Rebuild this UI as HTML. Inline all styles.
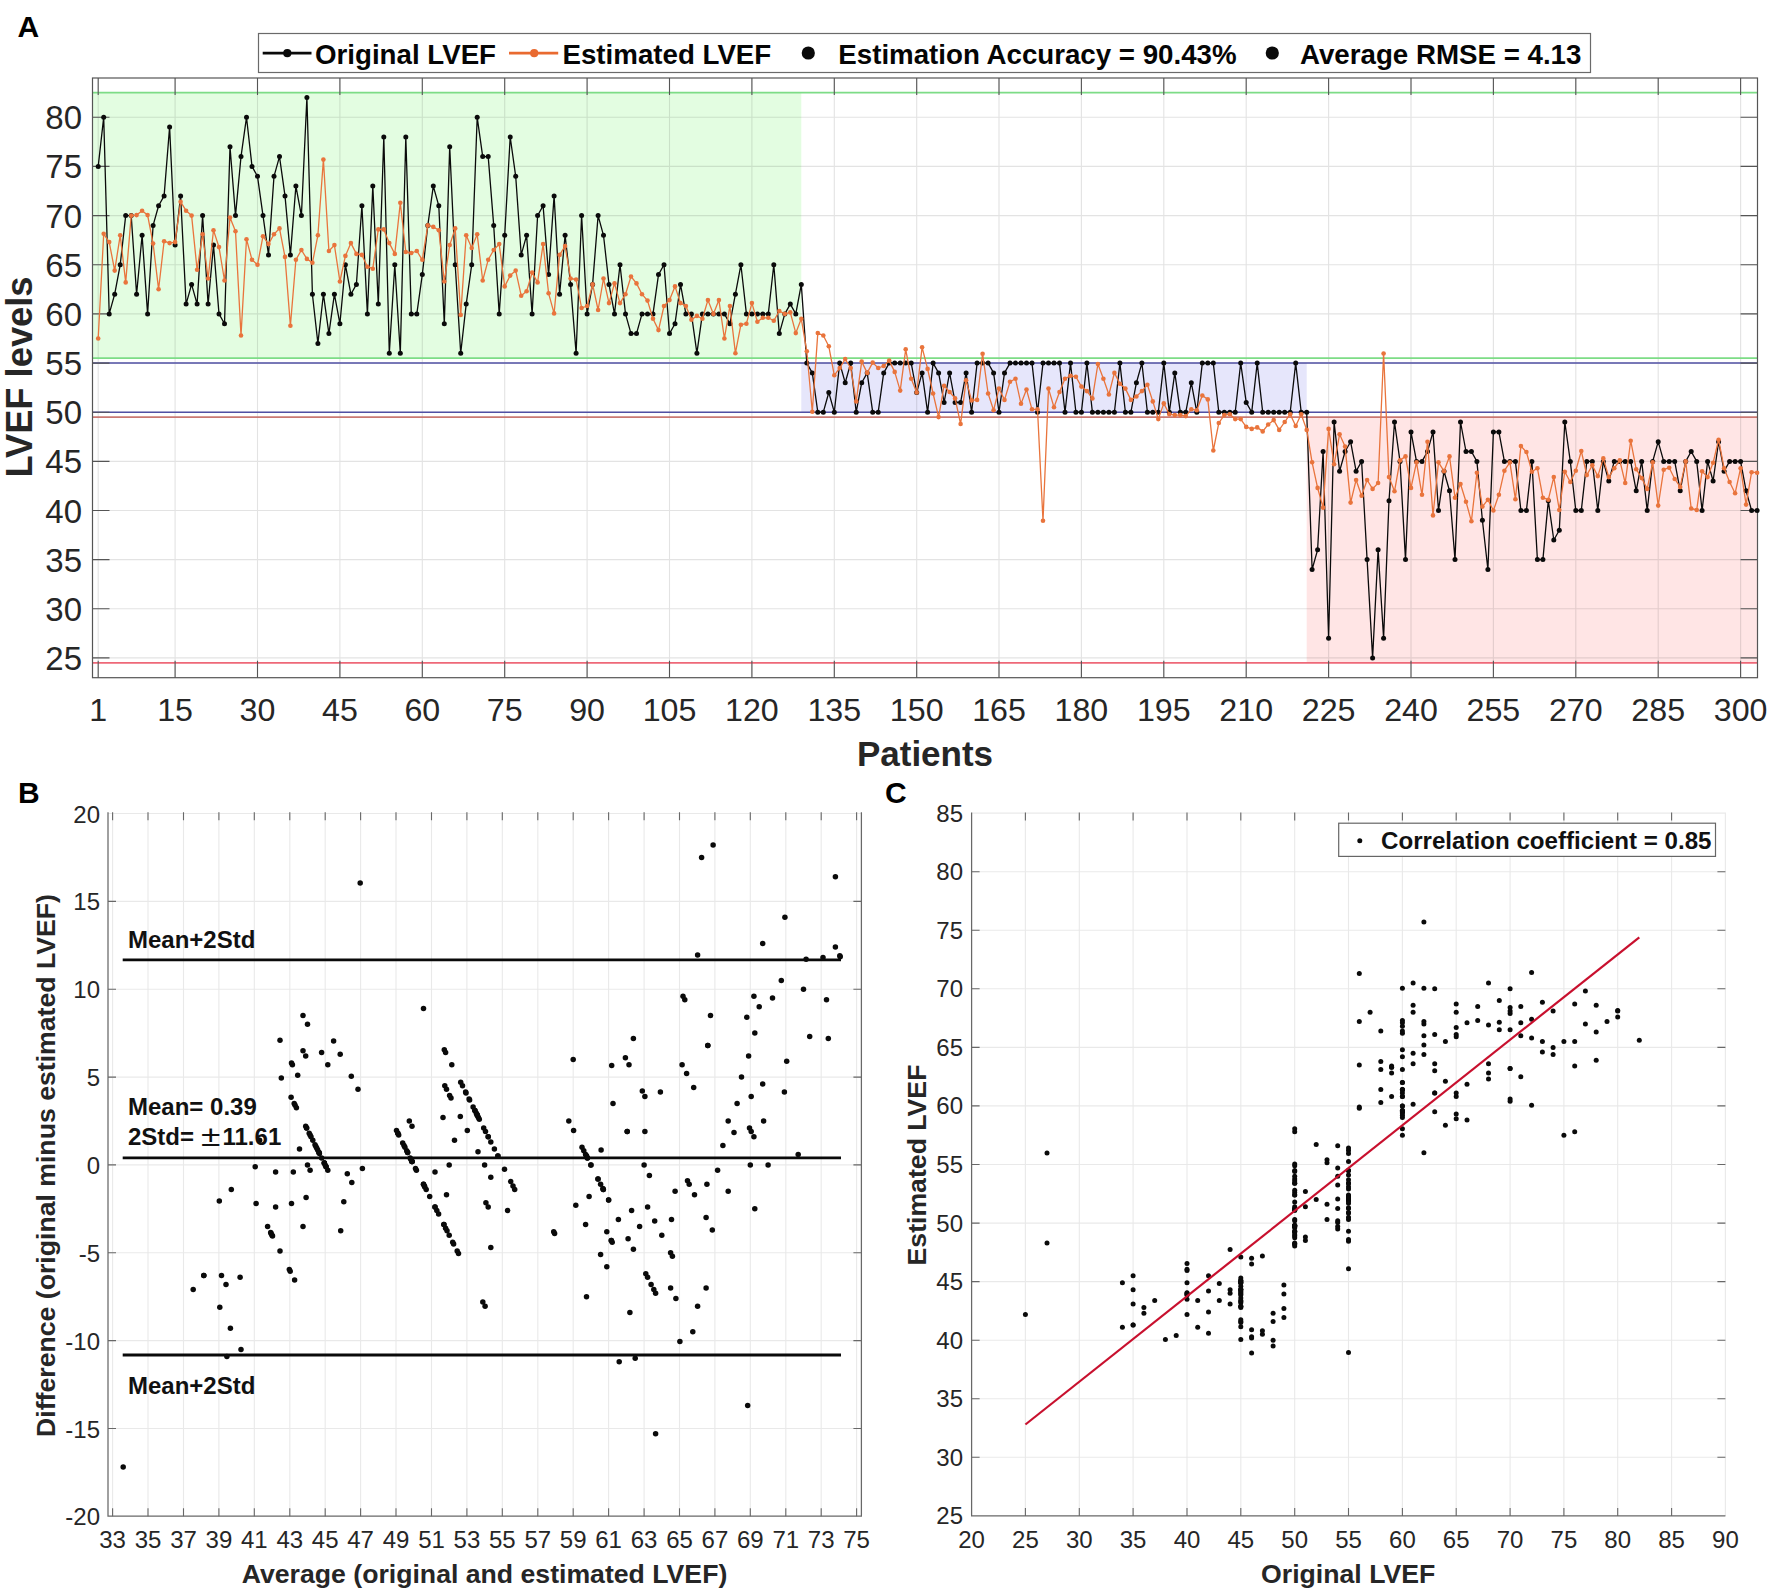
<!DOCTYPE html>
<html lang="en"><head><meta charset="utf-8"><title>LVEF estimation figure</title>
<style>html,body{margin:0;padding:0;background:#fff}svg{display:block}</style></head>
<body>
<svg width="1772" height="1593" viewBox="0 0 1772 1593" font-family='"Liberation Sans", Arial, Helvetica, sans-serif'>
<rect width="1772" height="1593" fill="#fff"/>
<rect x="92.5" y="92.7" width="708.8" height="265.4" fill="#e3fde1"/>
<rect x="801.3" y="363.1" width="505.4" height="49.1" fill="#e6e6fb"/>
<rect x="1306.7" y="417.1" width="450.8" height="245.8" fill="#ffe5e5"/>
<path d="M98.2 78.0V677.7M175.1 78.0V677.7M257.5 78.0V677.7M339.9 78.0V677.7M422.3 78.0V677.7M504.7 78.0V677.7M587.1 78.0V677.7M669.5 78.0V677.7M751.9 78.0V677.7M834.3 78.0V677.7M916.7 78.0V677.7M999.0 78.0V677.7M1081.4 78.0V677.7M1163.8 78.0V677.7M1246.2 78.0V677.7M1328.6 78.0V677.7M1411.0 78.0V677.7M1493.4 78.0V677.7M1575.8 78.0V677.7M1658.2 78.0V677.7M1740.6 78.0V677.7M92.5 657.9H1757.5M92.5 608.8H1757.5M92.5 559.6H1757.5M92.5 510.5H1757.5M92.5 461.4H1757.5M92.5 412.2H1757.5M92.5 363.1H1757.5M92.5 313.9H1757.5M92.5 264.8H1757.5M92.5 215.6H1757.5M92.5 166.4H1757.5M92.5 117.3H1757.5" stroke="#262626" stroke-opacity="0.13" stroke-width="1.1" fill="none"/>
<line x1="92.5" x2="1757.5" y1="92.7" y2="92.7" stroke="#7ddc86" stroke-width="1.7" stroke-opacity="1"/>
<line x1="92.5" x2="1757.5" y1="358.1" y2="358.1" stroke="#7ddc86" stroke-width="1.7" stroke-opacity="1"/>
<line x1="92.5" x2="1757.5" y1="363.1" y2="363.1" stroke="#5050a4" stroke-width="1.5" stroke-opacity="1"/>
<line x1="92.5" x2="1757.5" y1="412.2" y2="412.2" stroke="#5050a4" stroke-width="1.5" stroke-opacity="1"/>
<line x1="92.5" x2="1757.5" y1="417.1" y2="417.1" stroke="#c46a64" stroke-width="1.6" stroke-opacity="0.9"/>
<line x1="92.5" x2="1757.5" y1="662.9" y2="662.9" stroke="#ee6878" stroke-width="1.9" stroke-opacity="1"/>
<path d="M98.2 78.0v17M98.2 677.7v-17M175.1 78.0v17M175.1 677.7v-17M257.5 78.0v17M257.5 677.7v-17M339.9 78.0v17M339.9 677.7v-17M422.3 78.0v17M422.3 677.7v-17M504.7 78.0v17M504.7 677.7v-17M587.1 78.0v17M587.1 677.7v-17M669.5 78.0v17M669.5 677.7v-17M751.9 78.0v17M751.9 677.7v-17M834.3 78.0v17M834.3 677.7v-17M916.7 78.0v17M916.7 677.7v-17M999.0 78.0v17M999.0 677.7v-17M1081.4 78.0v17M1081.4 677.7v-17M1163.8 78.0v17M1163.8 677.7v-17M1246.2 78.0v17M1246.2 677.7v-17M1328.6 78.0v17M1328.6 677.7v-17M1411.0 78.0v17M1411.0 677.7v-17M1493.4 78.0v17M1493.4 677.7v-17M1575.8 78.0v17M1575.8 677.7v-17M1658.2 78.0v17M1658.2 677.7v-17M1740.6 78.0v17M1740.6 677.7v-17M92.5 657.9h17M1757.5 657.9h-17M92.5 608.8h17M1757.5 608.8h-17M92.5 559.6h17M1757.5 559.6h-17M92.5 510.5h17M1757.5 510.5h-17M92.5 461.4h17M1757.5 461.4h-17M92.5 412.2h17M1757.5 412.2h-17M92.5 363.1h17M1757.5 363.1h-17M92.5 313.9h17M1757.5 313.9h-17M92.5 264.8h17M1757.5 264.8h-17M92.5 215.6h17M1757.5 215.6h-17M92.5 166.4h17M1757.5 166.4h-17M92.5 117.3h17M1757.5 117.3h-17" stroke="#555555" stroke-width="1.1" fill="none"/>
<rect x="92.5" y="78.0" width="1665.0" height="599.7" fill="none" stroke="#555555" stroke-width="1.2"/>
<polyline points="98.2,166.4 103.7,117.3 109.2,313.9 114.7,294.2 120.2,264.8 125.7,215.6 131.2,215.6 136.6,294.2 142.1,235.3 147.6,313.9 153.1,225.4 158.6,205.8 164.1,195.9 169.6,127.1 175.1,245.1 180.6,195.9 186.1,304.1 191.6,284.4 197.1,304.1 202.6,215.6 208.1,304.1 213.5,245.1 219.0,313.9 224.5,323.7 230.0,146.8 235.5,215.6 241.0,156.6 246.5,117.3 252.0,166.4 257.5,176.3 263.0,215.6 268.5,254.9 274.0,176.3 279.5,156.6 285.0,195.9 290.4,254.9 295.9,186.1 301.4,215.6 306.9,97.6 312.4,294.2 317.9,343.4 323.4,294.2 328.9,333.6 334.4,294.2 339.9,323.7 345.4,264.8 350.9,294.2 356.4,284.4 361.9,205.8 367.4,313.9 372.8,186.1 378.3,304.1 383.8,137.0 389.3,353.2 394.8,264.8 400.3,353.2 405.8,137.0 411.3,313.9 416.8,313.9 422.3,274.6 427.8,225.4 433.3,186.1 438.8,205.8 444.3,323.7 449.7,146.8 455.2,264.8 460.7,353.2 466.2,304.1 471.7,264.8 477.2,117.3 482.7,156.6 488.2,156.6 493.7,225.4 499.2,313.9 504.7,235.3 510.2,137.0 515.7,176.3 521.2,254.9 526.6,235.3 532.1,313.9 537.6,215.6 543.1,205.8 548.6,274.6 554.1,195.9 559.6,294.2 565.1,235.3 570.6,284.4 576.1,353.2 581.6,215.6 587.1,313.9 592.6,284.4 598.1,215.6 603.5,235.3 609.0,284.4 614.5,313.9 620.0,264.8 625.5,313.9 631.0,333.6 636.5,333.6 642.0,313.9 647.5,313.9 653.0,313.9 658.5,274.6 664.0,264.8 669.5,333.6 675.0,323.7 680.5,284.4 685.9,313.9 691.4,313.9 696.9,353.2 702.4,313.9 707.9,313.9 713.4,313.9 718.9,313.9 724.4,313.9 729.9,323.7 735.4,294.2 740.9,264.8 746.4,313.9 751.9,313.9 757.4,313.9 762.8,313.9 768.3,313.9 773.8,264.8 779.3,333.6 784.8,313.9 790.3,304.1 795.8,313.9 801.3,284.4 806.8,363.1 812.3,372.9 817.8,412.2 823.3,412.2 828.8,392.5 834.3,412.2 839.7,363.1 845.2,382.7 850.7,363.1 856.2,412.2 861.7,382.7 867.2,372.9 872.7,412.2 878.2,412.2 883.7,372.9 889.2,363.1 894.7,363.1 900.2,363.1 905.7,363.1 911.2,363.1 916.7,392.5 922.1,372.9 927.6,412.2 933.1,363.1 938.6,372.9 944.1,402.4 949.6,372.9 955.1,402.4 960.6,402.4 966.1,372.9 971.6,412.2 977.1,363.1 982.6,363.1 988.1,363.1 993.6,372.9 999.0,412.2 1004.5,372.9 1010.0,363.1 1015.5,363.1 1021.0,363.1 1026.5,363.1 1032.0,363.1 1037.5,412.2 1043.0,363.1 1048.5,363.1 1054.0,363.1 1059.5,363.1 1065.0,412.2 1070.5,363.1 1075.9,412.2 1081.4,412.2 1086.9,363.1 1092.4,412.2 1097.9,412.2 1103.4,412.2 1108.9,412.2 1114.4,412.2 1119.9,363.1 1125.4,412.2 1130.9,412.2 1136.4,382.7 1141.9,363.1 1147.4,412.2 1152.8,412.2 1158.3,412.2 1163.8,363.1 1169.3,412.2 1174.8,372.9 1180.3,412.2 1185.8,412.2 1191.3,382.7 1196.8,412.2 1202.3,363.1 1207.8,363.1 1213.3,363.1 1218.8,412.2 1224.3,412.2 1229.8,412.2 1235.2,412.2 1240.7,363.1 1246.2,402.4 1251.7,412.2 1257.2,363.1 1262.7,412.2 1268.2,412.2 1273.7,412.2 1279.2,412.2 1284.7,412.2 1290.2,412.2 1295.7,363.1 1301.2,412.2 1306.7,412.2 1312.1,569.5 1317.6,549.8 1323.1,451.5 1328.6,638.3 1334.1,422.0 1339.6,471.2 1345.1,451.5 1350.6,441.7 1356.1,471.2 1361.6,461.4 1367.1,559.6 1372.6,657.9 1378.1,549.8 1383.6,638.3 1389.0,500.7 1394.5,422.0 1400.0,461.4 1405.5,559.6 1411.0,431.9 1416.5,461.4 1422.0,461.4 1427.5,451.5 1433.0,431.9 1438.5,510.5 1444.0,471.2 1449.5,490.8 1455.0,559.6 1460.5,422.0 1466.0,451.5 1471.4,451.5 1476.9,461.4 1482.4,520.3 1487.9,569.5 1493.4,431.9 1498.9,431.9 1504.4,461.4 1509.9,461.4 1515.4,461.4 1520.9,510.5 1526.4,510.5 1531.9,461.4 1537.4,559.6 1542.9,559.6 1548.3,500.7 1553.8,540.0 1559.3,530.2 1564.8,422.0 1570.3,461.4 1575.8,510.5 1581.3,510.5 1586.8,461.4 1592.3,461.4 1597.8,510.5 1603.3,461.4 1608.8,481.0 1614.3,461.4 1619.8,461.4 1625.2,461.4 1630.7,461.4 1636.2,490.8 1641.7,461.4 1647.2,510.5 1652.7,461.4 1658.2,441.7 1663.7,461.4 1669.2,461.4 1674.7,461.4 1680.2,490.8 1685.7,461.4 1691.2,451.5 1696.7,461.4 1702.1,510.5 1707.6,461.4 1713.1,481.0 1718.6,441.7 1724.1,471.2 1729.6,461.4 1735.1,461.4 1740.6,461.4 1746.1,490.8 1751.6,510.5 1757.1,510.5" fill="none" stroke="#0a0a0a" stroke-width="1.3" stroke-linejoin="round"/>
<g fill="#0a0a0a"><circle cx="98.2" cy="166.4" r="2.5"/><circle cx="103.7" cy="117.3" r="2.5"/><circle cx="109.2" cy="313.9" r="2.5"/><circle cx="114.7" cy="294.2" r="2.5"/><circle cx="120.2" cy="264.8" r="2.5"/><circle cx="125.7" cy="215.6" r="2.5"/><circle cx="131.2" cy="215.6" r="2.5"/><circle cx="136.6" cy="294.2" r="2.5"/><circle cx="142.1" cy="235.3" r="2.5"/><circle cx="147.6" cy="313.9" r="2.5"/><circle cx="153.1" cy="225.4" r="2.5"/><circle cx="158.6" cy="205.8" r="2.5"/><circle cx="164.1" cy="195.9" r="2.5"/><circle cx="169.6" cy="127.1" r="2.5"/><circle cx="175.1" cy="245.1" r="2.5"/><circle cx="180.6" cy="195.9" r="2.5"/><circle cx="186.1" cy="304.1" r="2.5"/><circle cx="191.6" cy="284.4" r="2.5"/><circle cx="197.1" cy="304.1" r="2.5"/><circle cx="202.6" cy="215.6" r="2.5"/><circle cx="208.1" cy="304.1" r="2.5"/><circle cx="213.5" cy="245.1" r="2.5"/><circle cx="219.0" cy="313.9" r="2.5"/><circle cx="224.5" cy="323.7" r="2.5"/><circle cx="230.0" cy="146.8" r="2.5"/><circle cx="235.5" cy="215.6" r="2.5"/><circle cx="241.0" cy="156.6" r="2.5"/><circle cx="246.5" cy="117.3" r="2.5"/><circle cx="252.0" cy="166.4" r="2.5"/><circle cx="257.5" cy="176.3" r="2.5"/><circle cx="263.0" cy="215.6" r="2.5"/><circle cx="268.5" cy="254.9" r="2.5"/><circle cx="274.0" cy="176.3" r="2.5"/><circle cx="279.5" cy="156.6" r="2.5"/><circle cx="285.0" cy="195.9" r="2.5"/><circle cx="290.4" cy="254.9" r="2.5"/><circle cx="295.9" cy="186.1" r="2.5"/><circle cx="301.4" cy="215.6" r="2.5"/><circle cx="306.9" cy="97.6" r="2.5"/><circle cx="312.4" cy="294.2" r="2.5"/><circle cx="317.9" cy="343.4" r="2.5"/><circle cx="323.4" cy="294.2" r="2.5"/><circle cx="328.9" cy="333.6" r="2.5"/><circle cx="334.4" cy="294.2" r="2.5"/><circle cx="339.9" cy="323.7" r="2.5"/><circle cx="345.4" cy="264.8" r="2.5"/><circle cx="350.9" cy="294.2" r="2.5"/><circle cx="356.4" cy="284.4" r="2.5"/><circle cx="361.9" cy="205.8" r="2.5"/><circle cx="367.4" cy="313.9" r="2.5"/><circle cx="372.8" cy="186.1" r="2.5"/><circle cx="378.3" cy="304.1" r="2.5"/><circle cx="383.8" cy="137.0" r="2.5"/><circle cx="389.3" cy="353.2" r="2.5"/><circle cx="394.8" cy="264.8" r="2.5"/><circle cx="400.3" cy="353.2" r="2.5"/><circle cx="405.8" cy="137.0" r="2.5"/><circle cx="411.3" cy="313.9" r="2.5"/><circle cx="416.8" cy="313.9" r="2.5"/><circle cx="422.3" cy="274.6" r="2.5"/><circle cx="427.8" cy="225.4" r="2.5"/><circle cx="433.3" cy="186.1" r="2.5"/><circle cx="438.8" cy="205.8" r="2.5"/><circle cx="444.3" cy="323.7" r="2.5"/><circle cx="449.7" cy="146.8" r="2.5"/><circle cx="455.2" cy="264.8" r="2.5"/><circle cx="460.7" cy="353.2" r="2.5"/><circle cx="466.2" cy="304.1" r="2.5"/><circle cx="471.7" cy="264.8" r="2.5"/><circle cx="477.2" cy="117.3" r="2.5"/><circle cx="482.7" cy="156.6" r="2.5"/><circle cx="488.2" cy="156.6" r="2.5"/><circle cx="493.7" cy="225.4" r="2.5"/><circle cx="499.2" cy="313.9" r="2.5"/><circle cx="504.7" cy="235.3" r="2.5"/><circle cx="510.2" cy="137.0" r="2.5"/><circle cx="515.7" cy="176.3" r="2.5"/><circle cx="521.2" cy="254.9" r="2.5"/><circle cx="526.6" cy="235.3" r="2.5"/><circle cx="532.1" cy="313.9" r="2.5"/><circle cx="537.6" cy="215.6" r="2.5"/><circle cx="543.1" cy="205.8" r="2.5"/><circle cx="548.6" cy="274.6" r="2.5"/><circle cx="554.1" cy="195.9" r="2.5"/><circle cx="559.6" cy="294.2" r="2.5"/><circle cx="565.1" cy="235.3" r="2.5"/><circle cx="570.6" cy="284.4" r="2.5"/><circle cx="576.1" cy="353.2" r="2.5"/><circle cx="581.6" cy="215.6" r="2.5"/><circle cx="587.1" cy="313.9" r="2.5"/><circle cx="592.6" cy="284.4" r="2.5"/><circle cx="598.1" cy="215.6" r="2.5"/><circle cx="603.5" cy="235.3" r="2.5"/><circle cx="609.0" cy="284.4" r="2.5"/><circle cx="614.5" cy="313.9" r="2.5"/><circle cx="620.0" cy="264.8" r="2.5"/><circle cx="625.5" cy="313.9" r="2.5"/><circle cx="631.0" cy="333.6" r="2.5"/><circle cx="636.5" cy="333.6" r="2.5"/><circle cx="642.0" cy="313.9" r="2.5"/><circle cx="647.5" cy="313.9" r="2.5"/><circle cx="653.0" cy="313.9" r="2.5"/><circle cx="658.5" cy="274.6" r="2.5"/><circle cx="664.0" cy="264.8" r="2.5"/><circle cx="669.5" cy="333.6" r="2.5"/><circle cx="675.0" cy="323.7" r="2.5"/><circle cx="680.5" cy="284.4" r="2.5"/><circle cx="685.9" cy="313.9" r="2.5"/><circle cx="691.4" cy="313.9" r="2.5"/><circle cx="696.9" cy="353.2" r="2.5"/><circle cx="702.4" cy="313.9" r="2.5"/><circle cx="707.9" cy="313.9" r="2.5"/><circle cx="713.4" cy="313.9" r="2.5"/><circle cx="718.9" cy="313.9" r="2.5"/><circle cx="724.4" cy="313.9" r="2.5"/><circle cx="729.9" cy="323.7" r="2.5"/><circle cx="735.4" cy="294.2" r="2.5"/><circle cx="740.9" cy="264.8" r="2.5"/><circle cx="746.4" cy="313.9" r="2.5"/><circle cx="751.9" cy="313.9" r="2.5"/><circle cx="757.4" cy="313.9" r="2.5"/><circle cx="762.8" cy="313.9" r="2.5"/><circle cx="768.3" cy="313.9" r="2.5"/><circle cx="773.8" cy="264.8" r="2.5"/><circle cx="779.3" cy="333.6" r="2.5"/><circle cx="784.8" cy="313.9" r="2.5"/><circle cx="790.3" cy="304.1" r="2.5"/><circle cx="795.8" cy="313.9" r="2.5"/><circle cx="801.3" cy="284.4" r="2.5"/><circle cx="806.8" cy="363.1" r="2.5"/><circle cx="812.3" cy="372.9" r="2.5"/><circle cx="817.8" cy="412.2" r="2.5"/><circle cx="823.3" cy="412.2" r="2.5"/><circle cx="828.8" cy="392.5" r="2.5"/><circle cx="834.3" cy="412.2" r="2.5"/><circle cx="839.7" cy="363.1" r="2.5"/><circle cx="845.2" cy="382.7" r="2.5"/><circle cx="850.7" cy="363.1" r="2.5"/><circle cx="856.2" cy="412.2" r="2.5"/><circle cx="861.7" cy="382.7" r="2.5"/><circle cx="867.2" cy="372.9" r="2.5"/><circle cx="872.7" cy="412.2" r="2.5"/><circle cx="878.2" cy="412.2" r="2.5"/><circle cx="883.7" cy="372.9" r="2.5"/><circle cx="889.2" cy="363.1" r="2.5"/><circle cx="894.7" cy="363.1" r="2.5"/><circle cx="900.2" cy="363.1" r="2.5"/><circle cx="905.7" cy="363.1" r="2.5"/><circle cx="911.2" cy="363.1" r="2.5"/><circle cx="916.7" cy="392.5" r="2.5"/><circle cx="922.1" cy="372.9" r="2.5"/><circle cx="927.6" cy="412.2" r="2.5"/><circle cx="933.1" cy="363.1" r="2.5"/><circle cx="938.6" cy="372.9" r="2.5"/><circle cx="944.1" cy="402.4" r="2.5"/><circle cx="949.6" cy="372.9" r="2.5"/><circle cx="955.1" cy="402.4" r="2.5"/><circle cx="960.6" cy="402.4" r="2.5"/><circle cx="966.1" cy="372.9" r="2.5"/><circle cx="971.6" cy="412.2" r="2.5"/><circle cx="977.1" cy="363.1" r="2.5"/><circle cx="982.6" cy="363.1" r="2.5"/><circle cx="988.1" cy="363.1" r="2.5"/><circle cx="993.6" cy="372.9" r="2.5"/><circle cx="999.0" cy="412.2" r="2.5"/><circle cx="1004.5" cy="372.9" r="2.5"/><circle cx="1010.0" cy="363.1" r="2.5"/><circle cx="1015.5" cy="363.1" r="2.5"/><circle cx="1021.0" cy="363.1" r="2.5"/><circle cx="1026.5" cy="363.1" r="2.5"/><circle cx="1032.0" cy="363.1" r="2.5"/><circle cx="1037.5" cy="412.2" r="2.5"/><circle cx="1043.0" cy="363.1" r="2.5"/><circle cx="1048.5" cy="363.1" r="2.5"/><circle cx="1054.0" cy="363.1" r="2.5"/><circle cx="1059.5" cy="363.1" r="2.5"/><circle cx="1065.0" cy="412.2" r="2.5"/><circle cx="1070.5" cy="363.1" r="2.5"/><circle cx="1075.9" cy="412.2" r="2.5"/><circle cx="1081.4" cy="412.2" r="2.5"/><circle cx="1086.9" cy="363.1" r="2.5"/><circle cx="1092.4" cy="412.2" r="2.5"/><circle cx="1097.9" cy="412.2" r="2.5"/><circle cx="1103.4" cy="412.2" r="2.5"/><circle cx="1108.9" cy="412.2" r="2.5"/><circle cx="1114.4" cy="412.2" r="2.5"/><circle cx="1119.9" cy="363.1" r="2.5"/><circle cx="1125.4" cy="412.2" r="2.5"/><circle cx="1130.9" cy="412.2" r="2.5"/><circle cx="1136.4" cy="382.7" r="2.5"/><circle cx="1141.9" cy="363.1" r="2.5"/><circle cx="1147.4" cy="412.2" r="2.5"/><circle cx="1152.8" cy="412.2" r="2.5"/><circle cx="1158.3" cy="412.2" r="2.5"/><circle cx="1163.8" cy="363.1" r="2.5"/><circle cx="1169.3" cy="412.2" r="2.5"/><circle cx="1174.8" cy="372.9" r="2.5"/><circle cx="1180.3" cy="412.2" r="2.5"/><circle cx="1185.8" cy="412.2" r="2.5"/><circle cx="1191.3" cy="382.7" r="2.5"/><circle cx="1196.8" cy="412.2" r="2.5"/><circle cx="1202.3" cy="363.1" r="2.5"/><circle cx="1207.8" cy="363.1" r="2.5"/><circle cx="1213.3" cy="363.1" r="2.5"/><circle cx="1218.8" cy="412.2" r="2.5"/><circle cx="1224.3" cy="412.2" r="2.5"/><circle cx="1229.8" cy="412.2" r="2.5"/><circle cx="1235.2" cy="412.2" r="2.5"/><circle cx="1240.7" cy="363.1" r="2.5"/><circle cx="1246.2" cy="402.4" r="2.5"/><circle cx="1251.7" cy="412.2" r="2.5"/><circle cx="1257.2" cy="363.1" r="2.5"/><circle cx="1262.7" cy="412.2" r="2.5"/><circle cx="1268.2" cy="412.2" r="2.5"/><circle cx="1273.7" cy="412.2" r="2.5"/><circle cx="1279.2" cy="412.2" r="2.5"/><circle cx="1284.7" cy="412.2" r="2.5"/><circle cx="1290.2" cy="412.2" r="2.5"/><circle cx="1295.7" cy="363.1" r="2.5"/><circle cx="1301.2" cy="412.2" r="2.5"/><circle cx="1306.7" cy="412.2" r="2.5"/><circle cx="1312.1" cy="569.5" r="2.5"/><circle cx="1317.6" cy="549.8" r="2.5"/><circle cx="1323.1" cy="451.5" r="2.5"/><circle cx="1328.6" cy="638.3" r="2.5"/><circle cx="1334.1" cy="422.0" r="2.5"/><circle cx="1339.6" cy="471.2" r="2.5"/><circle cx="1345.1" cy="451.5" r="2.5"/><circle cx="1350.6" cy="441.7" r="2.5"/><circle cx="1356.1" cy="471.2" r="2.5"/><circle cx="1361.6" cy="461.4" r="2.5"/><circle cx="1367.1" cy="559.6" r="2.5"/><circle cx="1372.6" cy="657.9" r="2.5"/><circle cx="1378.1" cy="549.8" r="2.5"/><circle cx="1383.6" cy="638.3" r="2.5"/><circle cx="1389.0" cy="500.7" r="2.5"/><circle cx="1394.5" cy="422.0" r="2.5"/><circle cx="1400.0" cy="461.4" r="2.5"/><circle cx="1405.5" cy="559.6" r="2.5"/><circle cx="1411.0" cy="431.9" r="2.5"/><circle cx="1416.5" cy="461.4" r="2.5"/><circle cx="1422.0" cy="461.4" r="2.5"/><circle cx="1427.5" cy="451.5" r="2.5"/><circle cx="1433.0" cy="431.9" r="2.5"/><circle cx="1438.5" cy="510.5" r="2.5"/><circle cx="1444.0" cy="471.2" r="2.5"/><circle cx="1449.5" cy="490.8" r="2.5"/><circle cx="1455.0" cy="559.6" r="2.5"/><circle cx="1460.5" cy="422.0" r="2.5"/><circle cx="1466.0" cy="451.5" r="2.5"/><circle cx="1471.4" cy="451.5" r="2.5"/><circle cx="1476.9" cy="461.4" r="2.5"/><circle cx="1482.4" cy="520.3" r="2.5"/><circle cx="1487.9" cy="569.5" r="2.5"/><circle cx="1493.4" cy="431.9" r="2.5"/><circle cx="1498.9" cy="431.9" r="2.5"/><circle cx="1504.4" cy="461.4" r="2.5"/><circle cx="1509.9" cy="461.4" r="2.5"/><circle cx="1515.4" cy="461.4" r="2.5"/><circle cx="1520.9" cy="510.5" r="2.5"/><circle cx="1526.4" cy="510.5" r="2.5"/><circle cx="1531.9" cy="461.4" r="2.5"/><circle cx="1537.4" cy="559.6" r="2.5"/><circle cx="1542.9" cy="559.6" r="2.5"/><circle cx="1548.3" cy="500.7" r="2.5"/><circle cx="1553.8" cy="540.0" r="2.5"/><circle cx="1559.3" cy="530.2" r="2.5"/><circle cx="1564.8" cy="422.0" r="2.5"/><circle cx="1570.3" cy="461.4" r="2.5"/><circle cx="1575.8" cy="510.5" r="2.5"/><circle cx="1581.3" cy="510.5" r="2.5"/><circle cx="1586.8" cy="461.4" r="2.5"/><circle cx="1592.3" cy="461.4" r="2.5"/><circle cx="1597.8" cy="510.5" r="2.5"/><circle cx="1603.3" cy="461.4" r="2.5"/><circle cx="1608.8" cy="481.0" r="2.5"/><circle cx="1614.3" cy="461.4" r="2.5"/><circle cx="1619.8" cy="461.4" r="2.5"/><circle cx="1625.2" cy="461.4" r="2.5"/><circle cx="1630.7" cy="461.4" r="2.5"/><circle cx="1636.2" cy="490.8" r="2.5"/><circle cx="1641.7" cy="461.4" r="2.5"/><circle cx="1647.2" cy="510.5" r="2.5"/><circle cx="1652.7" cy="461.4" r="2.5"/><circle cx="1658.2" cy="441.7" r="2.5"/><circle cx="1663.7" cy="461.4" r="2.5"/><circle cx="1669.2" cy="461.4" r="2.5"/><circle cx="1674.7" cy="461.4" r="2.5"/><circle cx="1680.2" cy="490.8" r="2.5"/><circle cx="1685.7" cy="461.4" r="2.5"/><circle cx="1691.2" cy="451.5" r="2.5"/><circle cx="1696.7" cy="461.4" r="2.5"/><circle cx="1702.1" cy="510.5" r="2.5"/><circle cx="1707.6" cy="461.4" r="2.5"/><circle cx="1713.1" cy="481.0" r="2.5"/><circle cx="1718.6" cy="441.7" r="2.5"/><circle cx="1724.1" cy="471.2" r="2.5"/><circle cx="1729.6" cy="461.4" r="2.5"/><circle cx="1735.1" cy="461.4" r="2.5"/><circle cx="1740.6" cy="461.4" r="2.5"/><circle cx="1746.1" cy="490.8" r="2.5"/><circle cx="1751.6" cy="510.5" r="2.5"/><circle cx="1757.1" cy="510.5" r="2.5"/></g>
<polyline points="98.2,338.5 103.7,233.8 109.2,242.1 114.7,270.6 120.2,235.3 125.7,282.4 131.2,215.6 136.6,215.1 142.1,210.7 147.6,215.1 153.1,243.6 158.6,289.3 164.1,241.2 169.6,243.1 175.1,242.1 180.6,201.8 186.1,210.7 191.6,215.6 197.1,269.7 202.6,234.3 208.1,278.5 213.5,230.3 219.0,247.1 224.5,280.5 230.0,217.6 235.5,231.3 241.0,335.5 246.5,239.2 252.0,259.8 257.5,264.8 263.0,236.2 268.5,244.1 274.0,234.3 279.5,228.4 285.0,256.9 290.4,325.7 295.9,259.8 301.4,250.0 306.9,258.9 312.4,262.8 317.9,235.3 323.4,159.6 328.9,251.0 334.4,245.1 339.9,281.5 345.4,255.9 350.9,243.1 356.4,253.9 361.9,254.9 367.4,266.7 372.8,268.7 378.3,229.4 383.8,229.4 389.3,243.1 394.8,253.9 400.3,202.8 405.8,252.0 411.3,253.0 416.8,251.0 422.3,259.8 427.8,225.4 433.3,226.9 438.8,230.3 444.3,281.5 449.7,245.1 455.2,228.4 460.7,314.9 466.2,235.3 471.7,248.0 477.2,234.3 482.7,280.5 488.2,259.8 493.7,250.0 499.2,244.1 504.7,286.4 510.2,275.6 515.7,270.6 521.2,295.7 526.6,291.3 532.1,272.6 537.6,282.4 543.1,244.1 548.6,293.3 554.1,313.4 559.6,254.9 565.1,246.1 570.6,278.5 576.1,279.5 581.6,308.0 587.1,306.0 592.6,284.4 598.1,310.0 603.5,278.5 609.0,303.1 614.5,283.4 620.0,303.1 625.5,294.2 631.0,276.5 636.5,283.4 642.0,294.2 647.5,300.6 653.0,318.8 658.5,330.1 664.0,306.0 669.5,300.1 675.0,286.4 680.5,303.1 685.9,306.0 691.4,319.8 696.9,315.9 702.4,318.8 707.9,300.1 713.4,313.9 718.9,300.1 724.4,338.5 729.9,306.0 735.4,353.2 740.9,324.7 746.4,323.7 751.9,303.1 757.4,321.8 762.8,317.8 768.3,317.8 773.8,320.8 779.3,311.0 784.8,313.9 790.3,312.4 795.8,333.1 801.3,318.8 806.8,351.3 812.3,411.7 817.8,333.1 823.3,335.5 828.8,346.3 834.3,375.3 839.7,368.0 845.2,359.1 850.7,368.0 856.2,401.4 861.7,361.6 867.2,372.9 872.7,362.6 878.2,368.0 883.7,366.0 889.2,360.6 894.7,371.9 900.2,390.6 905.7,349.3 911.2,378.8 916.7,392.5 922.1,347.3 927.6,368.9 933.1,393.5 938.6,417.1 944.1,385.7 949.6,392.0 955.1,398.4 960.6,424.0 966.1,380.3 971.6,400.4 977.1,399.9 982.6,353.7 988.1,393.5 993.6,410.2 999.0,388.6 1004.5,399.9 1010.0,381.7 1015.5,378.8 1021.0,403.8 1026.5,389.6 1032.0,409.3 1037.5,409.3 1043.0,520.8 1048.5,388.6 1054.0,407.3 1059.5,392.0 1065.0,378.8 1070.5,375.8 1075.9,376.8 1081.4,386.6 1086.9,391.1 1092.4,398.4 1097.9,364.0 1103.4,378.8 1108.9,394.5 1114.4,372.9 1119.9,383.7 1125.4,388.6 1130.9,399.9 1136.4,396.5 1141.9,391.1 1147.4,384.7 1152.8,401.4 1158.3,419.1 1163.8,403.4 1169.3,414.2 1174.8,415.1 1180.3,415.1 1185.8,416.1 1191.3,409.3 1196.8,410.2 1202.3,395.5 1207.8,399.4 1213.3,450.5 1218.8,423.0 1224.3,415.1 1229.8,414.2 1235.2,419.1 1240.7,419.1 1246.2,426.9 1251.7,428.9 1257.2,427.4 1262.7,431.4 1268.2,424.5 1273.7,420.1 1279.2,429.9 1284.7,422.0 1290.2,414.2 1295.7,426.0 1301.2,414.2 1306.7,429.9 1312.1,462.3 1317.6,487.9 1323.1,507.6 1328.6,428.9 1334.1,464.3 1339.6,434.3 1345.1,446.6 1350.6,502.6 1356.1,480.0 1361.6,495.8 1367.1,480.0 1372.6,488.9 1378.1,483.0 1383.6,353.5 1389.0,477.1 1394.5,491.3 1400.0,460.4 1405.5,456.4 1411.0,487.9 1416.5,462.3 1422.0,494.8 1427.5,441.7 1433.0,515.4 1438.5,462.3 1444.0,471.2 1449.5,456.4 1455.0,497.7 1460.5,484.0 1466.0,501.7 1471.4,521.3 1476.9,472.7 1482.4,506.6 1487.9,499.7 1493.4,510.5 1498.9,494.8 1504.4,470.7 1509.9,462.3 1515.4,499.2 1520.9,446.1 1526.4,452.0 1531.9,471.7 1537.4,468.2 1542.9,497.7 1548.3,499.7 1553.8,477.1 1559.3,510.0 1564.8,471.7 1570.3,482.0 1575.8,470.7 1581.3,451.0 1586.8,475.1 1592.3,465.3 1597.8,476.1 1603.3,458.4 1608.8,477.1 1614.3,468.2 1619.8,460.4 1625.2,483.0 1630.7,440.7 1636.2,469.2 1641.7,478.1 1647.2,488.9 1652.7,462.3 1658.2,505.6 1663.7,469.7 1669.2,467.7 1674.7,479.0 1680.2,486.9 1685.7,461.4 1691.2,508.5 1696.7,510.0 1702.1,471.2 1707.6,477.1 1713.1,462.8 1718.6,439.7 1724.1,468.2 1729.6,482.0 1735.1,493.3 1740.6,468.2 1746.1,504.6 1751.6,472.2 1757.1,472.7" fill="none" stroke="#e9743c" stroke-width="1.3" stroke-linejoin="round"/>
<g fill="#e9743c"><circle cx="98.2" cy="338.5" r="2.3"/><circle cx="103.7" cy="233.8" r="2.3"/><circle cx="109.2" cy="242.1" r="2.3"/><circle cx="114.7" cy="270.6" r="2.3"/><circle cx="120.2" cy="235.3" r="2.3"/><circle cx="125.7" cy="282.4" r="2.3"/><circle cx="131.2" cy="215.6" r="2.3"/><circle cx="136.6" cy="215.1" r="2.3"/><circle cx="142.1" cy="210.7" r="2.3"/><circle cx="147.6" cy="215.1" r="2.3"/><circle cx="153.1" cy="243.6" r="2.3"/><circle cx="158.6" cy="289.3" r="2.3"/><circle cx="164.1" cy="241.2" r="2.3"/><circle cx="169.6" cy="243.1" r="2.3"/><circle cx="175.1" cy="242.1" r="2.3"/><circle cx="180.6" cy="201.8" r="2.3"/><circle cx="186.1" cy="210.7" r="2.3"/><circle cx="191.6" cy="215.6" r="2.3"/><circle cx="197.1" cy="269.7" r="2.3"/><circle cx="202.6" cy="234.3" r="2.3"/><circle cx="208.1" cy="278.5" r="2.3"/><circle cx="213.5" cy="230.3" r="2.3"/><circle cx="219.0" cy="247.1" r="2.3"/><circle cx="224.5" cy="280.5" r="2.3"/><circle cx="230.0" cy="217.6" r="2.3"/><circle cx="235.5" cy="231.3" r="2.3"/><circle cx="241.0" cy="335.5" r="2.3"/><circle cx="246.5" cy="239.2" r="2.3"/><circle cx="252.0" cy="259.8" r="2.3"/><circle cx="257.5" cy="264.8" r="2.3"/><circle cx="263.0" cy="236.2" r="2.3"/><circle cx="268.5" cy="244.1" r="2.3"/><circle cx="274.0" cy="234.3" r="2.3"/><circle cx="279.5" cy="228.4" r="2.3"/><circle cx="285.0" cy="256.9" r="2.3"/><circle cx="290.4" cy="325.7" r="2.3"/><circle cx="295.9" cy="259.8" r="2.3"/><circle cx="301.4" cy="250.0" r="2.3"/><circle cx="306.9" cy="258.9" r="2.3"/><circle cx="312.4" cy="262.8" r="2.3"/><circle cx="317.9" cy="235.3" r="2.3"/><circle cx="323.4" cy="159.6" r="2.3"/><circle cx="328.9" cy="251.0" r="2.3"/><circle cx="334.4" cy="245.1" r="2.3"/><circle cx="339.9" cy="281.5" r="2.3"/><circle cx="345.4" cy="255.9" r="2.3"/><circle cx="350.9" cy="243.1" r="2.3"/><circle cx="356.4" cy="253.9" r="2.3"/><circle cx="361.9" cy="254.9" r="2.3"/><circle cx="367.4" cy="266.7" r="2.3"/><circle cx="372.8" cy="268.7" r="2.3"/><circle cx="378.3" cy="229.4" r="2.3"/><circle cx="383.8" cy="229.4" r="2.3"/><circle cx="389.3" cy="243.1" r="2.3"/><circle cx="394.8" cy="253.9" r="2.3"/><circle cx="400.3" cy="202.8" r="2.3"/><circle cx="405.8" cy="252.0" r="2.3"/><circle cx="411.3" cy="253.0" r="2.3"/><circle cx="416.8" cy="251.0" r="2.3"/><circle cx="422.3" cy="259.8" r="2.3"/><circle cx="427.8" cy="225.4" r="2.3"/><circle cx="433.3" cy="226.9" r="2.3"/><circle cx="438.8" cy="230.3" r="2.3"/><circle cx="444.3" cy="281.5" r="2.3"/><circle cx="449.7" cy="245.1" r="2.3"/><circle cx="455.2" cy="228.4" r="2.3"/><circle cx="460.7" cy="314.9" r="2.3"/><circle cx="466.2" cy="235.3" r="2.3"/><circle cx="471.7" cy="248.0" r="2.3"/><circle cx="477.2" cy="234.3" r="2.3"/><circle cx="482.7" cy="280.5" r="2.3"/><circle cx="488.2" cy="259.8" r="2.3"/><circle cx="493.7" cy="250.0" r="2.3"/><circle cx="499.2" cy="244.1" r="2.3"/><circle cx="504.7" cy="286.4" r="2.3"/><circle cx="510.2" cy="275.6" r="2.3"/><circle cx="515.7" cy="270.6" r="2.3"/><circle cx="521.2" cy="295.7" r="2.3"/><circle cx="526.6" cy="291.3" r="2.3"/><circle cx="532.1" cy="272.6" r="2.3"/><circle cx="537.6" cy="282.4" r="2.3"/><circle cx="543.1" cy="244.1" r="2.3"/><circle cx="548.6" cy="293.3" r="2.3"/><circle cx="554.1" cy="313.4" r="2.3"/><circle cx="559.6" cy="254.9" r="2.3"/><circle cx="565.1" cy="246.1" r="2.3"/><circle cx="570.6" cy="278.5" r="2.3"/><circle cx="576.1" cy="279.5" r="2.3"/><circle cx="581.6" cy="308.0" r="2.3"/><circle cx="587.1" cy="306.0" r="2.3"/><circle cx="592.6" cy="284.4" r="2.3"/><circle cx="598.1" cy="310.0" r="2.3"/><circle cx="603.5" cy="278.5" r="2.3"/><circle cx="609.0" cy="303.1" r="2.3"/><circle cx="614.5" cy="283.4" r="2.3"/><circle cx="620.0" cy="303.1" r="2.3"/><circle cx="625.5" cy="294.2" r="2.3"/><circle cx="631.0" cy="276.5" r="2.3"/><circle cx="636.5" cy="283.4" r="2.3"/><circle cx="642.0" cy="294.2" r="2.3"/><circle cx="647.5" cy="300.6" r="2.3"/><circle cx="653.0" cy="318.8" r="2.3"/><circle cx="658.5" cy="330.1" r="2.3"/><circle cx="664.0" cy="306.0" r="2.3"/><circle cx="669.5" cy="300.1" r="2.3"/><circle cx="675.0" cy="286.4" r="2.3"/><circle cx="680.5" cy="303.1" r="2.3"/><circle cx="685.9" cy="306.0" r="2.3"/><circle cx="691.4" cy="319.8" r="2.3"/><circle cx="696.9" cy="315.9" r="2.3"/><circle cx="702.4" cy="318.8" r="2.3"/><circle cx="707.9" cy="300.1" r="2.3"/><circle cx="713.4" cy="313.9" r="2.3"/><circle cx="718.9" cy="300.1" r="2.3"/><circle cx="724.4" cy="338.5" r="2.3"/><circle cx="729.9" cy="306.0" r="2.3"/><circle cx="735.4" cy="353.2" r="2.3"/><circle cx="740.9" cy="324.7" r="2.3"/><circle cx="746.4" cy="323.7" r="2.3"/><circle cx="751.9" cy="303.1" r="2.3"/><circle cx="757.4" cy="321.8" r="2.3"/><circle cx="762.8" cy="317.8" r="2.3"/><circle cx="768.3" cy="317.8" r="2.3"/><circle cx="773.8" cy="320.8" r="2.3"/><circle cx="779.3" cy="311.0" r="2.3"/><circle cx="784.8" cy="313.9" r="2.3"/><circle cx="790.3" cy="312.4" r="2.3"/><circle cx="795.8" cy="333.1" r="2.3"/><circle cx="801.3" cy="318.8" r="2.3"/><circle cx="806.8" cy="351.3" r="2.3"/><circle cx="812.3" cy="411.7" r="2.3"/><circle cx="817.8" cy="333.1" r="2.3"/><circle cx="823.3" cy="335.5" r="2.3"/><circle cx="828.8" cy="346.3" r="2.3"/><circle cx="834.3" cy="375.3" r="2.3"/><circle cx="839.7" cy="368.0" r="2.3"/><circle cx="845.2" cy="359.1" r="2.3"/><circle cx="850.7" cy="368.0" r="2.3"/><circle cx="856.2" cy="401.4" r="2.3"/><circle cx="861.7" cy="361.6" r="2.3"/><circle cx="867.2" cy="372.9" r="2.3"/><circle cx="872.7" cy="362.6" r="2.3"/><circle cx="878.2" cy="368.0" r="2.3"/><circle cx="883.7" cy="366.0" r="2.3"/><circle cx="889.2" cy="360.6" r="2.3"/><circle cx="894.7" cy="371.9" r="2.3"/><circle cx="900.2" cy="390.6" r="2.3"/><circle cx="905.7" cy="349.3" r="2.3"/><circle cx="911.2" cy="378.8" r="2.3"/><circle cx="916.7" cy="392.5" r="2.3"/><circle cx="922.1" cy="347.3" r="2.3"/><circle cx="927.6" cy="368.9" r="2.3"/><circle cx="933.1" cy="393.5" r="2.3"/><circle cx="938.6" cy="417.1" r="2.3"/><circle cx="944.1" cy="385.7" r="2.3"/><circle cx="949.6" cy="392.0" r="2.3"/><circle cx="955.1" cy="398.4" r="2.3"/><circle cx="960.6" cy="424.0" r="2.3"/><circle cx="966.1" cy="380.3" r="2.3"/><circle cx="971.6" cy="400.4" r="2.3"/><circle cx="977.1" cy="399.9" r="2.3"/><circle cx="982.6" cy="353.7" r="2.3"/><circle cx="988.1" cy="393.5" r="2.3"/><circle cx="993.6" cy="410.2" r="2.3"/><circle cx="999.0" cy="388.6" r="2.3"/><circle cx="1004.5" cy="399.9" r="2.3"/><circle cx="1010.0" cy="381.7" r="2.3"/><circle cx="1015.5" cy="378.8" r="2.3"/><circle cx="1021.0" cy="403.8" r="2.3"/><circle cx="1026.5" cy="389.6" r="2.3"/><circle cx="1032.0" cy="409.3" r="2.3"/><circle cx="1037.5" cy="409.3" r="2.3"/><circle cx="1043.0" cy="520.8" r="2.3"/><circle cx="1048.5" cy="388.6" r="2.3"/><circle cx="1054.0" cy="407.3" r="2.3"/><circle cx="1059.5" cy="392.0" r="2.3"/><circle cx="1065.0" cy="378.8" r="2.3"/><circle cx="1070.5" cy="375.8" r="2.3"/><circle cx="1075.9" cy="376.8" r="2.3"/><circle cx="1081.4" cy="386.6" r="2.3"/><circle cx="1086.9" cy="391.1" r="2.3"/><circle cx="1092.4" cy="398.4" r="2.3"/><circle cx="1097.9" cy="364.0" r="2.3"/><circle cx="1103.4" cy="378.8" r="2.3"/><circle cx="1108.9" cy="394.5" r="2.3"/><circle cx="1114.4" cy="372.9" r="2.3"/><circle cx="1119.9" cy="383.7" r="2.3"/><circle cx="1125.4" cy="388.6" r="2.3"/><circle cx="1130.9" cy="399.9" r="2.3"/><circle cx="1136.4" cy="396.5" r="2.3"/><circle cx="1141.9" cy="391.1" r="2.3"/><circle cx="1147.4" cy="384.7" r="2.3"/><circle cx="1152.8" cy="401.4" r="2.3"/><circle cx="1158.3" cy="419.1" r="2.3"/><circle cx="1163.8" cy="403.4" r="2.3"/><circle cx="1169.3" cy="414.2" r="2.3"/><circle cx="1174.8" cy="415.1" r="2.3"/><circle cx="1180.3" cy="415.1" r="2.3"/><circle cx="1185.8" cy="416.1" r="2.3"/><circle cx="1191.3" cy="409.3" r="2.3"/><circle cx="1196.8" cy="410.2" r="2.3"/><circle cx="1202.3" cy="395.5" r="2.3"/><circle cx="1207.8" cy="399.4" r="2.3"/><circle cx="1213.3" cy="450.5" r="2.3"/><circle cx="1218.8" cy="423.0" r="2.3"/><circle cx="1224.3" cy="415.1" r="2.3"/><circle cx="1229.8" cy="414.2" r="2.3"/><circle cx="1235.2" cy="419.1" r="2.3"/><circle cx="1240.7" cy="419.1" r="2.3"/><circle cx="1246.2" cy="426.9" r="2.3"/><circle cx="1251.7" cy="428.9" r="2.3"/><circle cx="1257.2" cy="427.4" r="2.3"/><circle cx="1262.7" cy="431.4" r="2.3"/><circle cx="1268.2" cy="424.5" r="2.3"/><circle cx="1273.7" cy="420.1" r="2.3"/><circle cx="1279.2" cy="429.9" r="2.3"/><circle cx="1284.7" cy="422.0" r="2.3"/><circle cx="1290.2" cy="414.2" r="2.3"/><circle cx="1295.7" cy="426.0" r="2.3"/><circle cx="1301.2" cy="414.2" r="2.3"/><circle cx="1306.7" cy="429.9" r="2.3"/><circle cx="1312.1" cy="462.3" r="2.3"/><circle cx="1317.6" cy="487.9" r="2.3"/><circle cx="1323.1" cy="507.6" r="2.3"/><circle cx="1328.6" cy="428.9" r="2.3"/><circle cx="1334.1" cy="464.3" r="2.3"/><circle cx="1339.6" cy="434.3" r="2.3"/><circle cx="1345.1" cy="446.6" r="2.3"/><circle cx="1350.6" cy="502.6" r="2.3"/><circle cx="1356.1" cy="480.0" r="2.3"/><circle cx="1361.6" cy="495.8" r="2.3"/><circle cx="1367.1" cy="480.0" r="2.3"/><circle cx="1372.6" cy="488.9" r="2.3"/><circle cx="1378.1" cy="483.0" r="2.3"/><circle cx="1383.6" cy="353.5" r="2.3"/><circle cx="1389.0" cy="477.1" r="2.3"/><circle cx="1394.5" cy="491.3" r="2.3"/><circle cx="1400.0" cy="460.4" r="2.3"/><circle cx="1405.5" cy="456.4" r="2.3"/><circle cx="1411.0" cy="487.9" r="2.3"/><circle cx="1416.5" cy="462.3" r="2.3"/><circle cx="1422.0" cy="494.8" r="2.3"/><circle cx="1427.5" cy="441.7" r="2.3"/><circle cx="1433.0" cy="515.4" r="2.3"/><circle cx="1438.5" cy="462.3" r="2.3"/><circle cx="1444.0" cy="471.2" r="2.3"/><circle cx="1449.5" cy="456.4" r="2.3"/><circle cx="1455.0" cy="497.7" r="2.3"/><circle cx="1460.5" cy="484.0" r="2.3"/><circle cx="1466.0" cy="501.7" r="2.3"/><circle cx="1471.4" cy="521.3" r="2.3"/><circle cx="1476.9" cy="472.7" r="2.3"/><circle cx="1482.4" cy="506.6" r="2.3"/><circle cx="1487.9" cy="499.7" r="2.3"/><circle cx="1493.4" cy="510.5" r="2.3"/><circle cx="1498.9" cy="494.8" r="2.3"/><circle cx="1504.4" cy="470.7" r="2.3"/><circle cx="1509.9" cy="462.3" r="2.3"/><circle cx="1515.4" cy="499.2" r="2.3"/><circle cx="1520.9" cy="446.1" r="2.3"/><circle cx="1526.4" cy="452.0" r="2.3"/><circle cx="1531.9" cy="471.7" r="2.3"/><circle cx="1537.4" cy="468.2" r="2.3"/><circle cx="1542.9" cy="497.7" r="2.3"/><circle cx="1548.3" cy="499.7" r="2.3"/><circle cx="1553.8" cy="477.1" r="2.3"/><circle cx="1559.3" cy="510.0" r="2.3"/><circle cx="1564.8" cy="471.7" r="2.3"/><circle cx="1570.3" cy="482.0" r="2.3"/><circle cx="1575.8" cy="470.7" r="2.3"/><circle cx="1581.3" cy="451.0" r="2.3"/><circle cx="1586.8" cy="475.1" r="2.3"/><circle cx="1592.3" cy="465.3" r="2.3"/><circle cx="1597.8" cy="476.1" r="2.3"/><circle cx="1603.3" cy="458.4" r="2.3"/><circle cx="1608.8" cy="477.1" r="2.3"/><circle cx="1614.3" cy="468.2" r="2.3"/><circle cx="1619.8" cy="460.4" r="2.3"/><circle cx="1625.2" cy="483.0" r="2.3"/><circle cx="1630.7" cy="440.7" r="2.3"/><circle cx="1636.2" cy="469.2" r="2.3"/><circle cx="1641.7" cy="478.1" r="2.3"/><circle cx="1647.2" cy="488.9" r="2.3"/><circle cx="1652.7" cy="462.3" r="2.3"/><circle cx="1658.2" cy="505.6" r="2.3"/><circle cx="1663.7" cy="469.7" r="2.3"/><circle cx="1669.2" cy="467.7" r="2.3"/><circle cx="1674.7" cy="479.0" r="2.3"/><circle cx="1680.2" cy="486.9" r="2.3"/><circle cx="1685.7" cy="461.4" r="2.3"/><circle cx="1691.2" cy="508.5" r="2.3"/><circle cx="1696.7" cy="510.0" r="2.3"/><circle cx="1702.1" cy="471.2" r="2.3"/><circle cx="1707.6" cy="477.1" r="2.3"/><circle cx="1713.1" cy="462.8" r="2.3"/><circle cx="1718.6" cy="439.7" r="2.3"/><circle cx="1724.1" cy="468.2" r="2.3"/><circle cx="1729.6" cy="482.0" r="2.3"/><circle cx="1735.1" cy="493.3" r="2.3"/><circle cx="1740.6" cy="468.2" r="2.3"/><circle cx="1746.1" cy="504.6" r="2.3"/><circle cx="1751.6" cy="472.2" r="2.3"/><circle cx="1757.1" cy="472.7" r="2.3"/></g>
<g font-size="32.2" fill="#262626" text-anchor="middle">
<text x="98.2" y="721.4">1</text>
<text x="175.1" y="721.4">15</text>
<text x="257.5" y="721.4">30</text>
<text x="339.9" y="721.4">45</text>
<text x="422.3" y="721.4">60</text>
<text x="504.7" y="721.4">75</text>
<text x="587.1" y="721.4">90</text>
<text x="669.5" y="721.4">105</text>
<text x="751.9" y="721.4">120</text>
<text x="834.3" y="721.4">135</text>
<text x="916.7" y="721.4">150</text>
<text x="999.0" y="721.4">165</text>
<text x="1081.4" y="721.4">180</text>
<text x="1163.8" y="721.4">195</text>
<text x="1246.2" y="721.4">210</text>
<text x="1328.6" y="721.4">225</text>
<text x="1411.0" y="721.4">240</text>
<text x="1493.4" y="721.4">255</text>
<text x="1575.8" y="721.4">270</text>
<text x="1658.2" y="721.4">285</text>
<text x="1740.6" y="721.4">300</text>
</g>
<g font-size="33" fill="#262626" text-anchor="end">
<text x="82" y="669.9">25</text>
<text x="82" y="620.8">30</text>
<text x="82" y="571.6">35</text>
<text x="82" y="522.5">40</text>
<text x="82" y="473.4">45</text>
<text x="82" y="424.2">50</text>
<text x="82" y="375.1">55</text>
<text x="82" y="325.9">60</text>
<text x="82" y="276.8">65</text>
<text x="82" y="227.6">70</text>
<text x="82" y="178.4">75</text>
<text x="82" y="129.3">80</text>
</g>
<text x="925" y="766.3" font-size="35" font-weight="bold" fill="#262626" text-anchor="middle">Patients</text>
<text transform="translate(32 377) rotate(-90)" font-size="36.3" font-weight="bold" fill="#262626" text-anchor="middle">LVEF levels</text>
<rect x="258.5" y="33.5" width="1332" height="39" fill="#fff" stroke="#6a6a6a" stroke-width="1.2"/>
<line x1="262.7" x2="311.5" y1="53.2" y2="53.2" stroke="#0a0a0a" stroke-width="2.8"/><circle cx="287.3" cy="53.2" r="4.1" fill="#0a0a0a"/>
<line x1="509" x2="558.2" y1="53.2" y2="53.2" stroke="#e96a30" stroke-width="2.8"/><circle cx="534.2" cy="53.2" r="4.1" fill="#e96a30"/>
<circle cx="808.3" cy="53" r="6.6" fill="#0a0a0a"/><circle cx="1272.3" cy="53" r="6.6" fill="#0a0a0a"/>
<g font-size="27.7" font-weight="bold" fill="#050505">
<text x="315" y="63.6">Original LVEF</text>
<text x="562.5" y="63.6">Estimated LVEF</text>
<text x="838.3" y="63.6">Estimation Accuracy = 90.43%</text>
<text x="1300" y="63.6">Average RMSE = 4.13</text>
</g>
<g font-size="30" font-weight="bold" fill="#000">
<text x="17.5" y="37.3">A</text><text x="18" y="803">B</text><text x="885" y="803.4">C</text></g>
<path d="M112.6 812.3V1516.2M148.0 812.3V1516.2M183.5 812.3V1516.2M218.9 812.3V1516.2M254.3 812.3V1516.2M289.8 812.3V1516.2M325.2 812.3V1516.2M360.6 812.3V1516.2M396.0 812.3V1516.2M431.5 812.3V1516.2M466.9 812.3V1516.2M502.3 812.3V1516.2M537.8 812.3V1516.2M573.2 812.3V1516.2M608.6 812.3V1516.2M644.1 812.3V1516.2M679.5 812.3V1516.2M714.9 812.3V1516.2M750.3 812.3V1516.2M785.8 812.3V1516.2M821.2 812.3V1516.2M856.6 812.3V1516.2M108.0 1428.5H861.4M108.0 1340.6H861.4M108.0 1252.8H861.4M108.0 1164.9H861.4M108.0 1077.1H861.4M108.0 989.2H861.4M108.0 901.4H861.4M108.0 813.5H861.4" stroke="#262626" stroke-opacity="0.10" stroke-width="1.1" fill="none"/>
<path d="M112.6 812.3v8M112.6 1516.2v-8M148.0 812.3v8M148.0 1516.2v-8M183.5 812.3v8M183.5 1516.2v-8M218.9 812.3v8M218.9 1516.2v-8M254.3 812.3v8M254.3 1516.2v-8M289.8 812.3v8M289.8 1516.2v-8M325.2 812.3v8M325.2 1516.2v-8M360.6 812.3v8M360.6 1516.2v-8M396.0 812.3v8M396.0 1516.2v-8M431.5 812.3v8M431.5 1516.2v-8M466.9 812.3v8M466.9 1516.2v-8M502.3 812.3v8M502.3 1516.2v-8M537.8 812.3v8M537.8 1516.2v-8M573.2 812.3v8M573.2 1516.2v-8M608.6 812.3v8M608.6 1516.2v-8M644.1 812.3v8M644.1 1516.2v-8M679.5 812.3v8M679.5 1516.2v-8M714.9 812.3v8M714.9 1516.2v-8M750.3 812.3v8M750.3 1516.2v-8M785.8 812.3v8M785.8 1516.2v-8M821.2 812.3v8M821.2 1516.2v-8M856.6 812.3v8M856.6 1516.2v-8M108.0 1428.5h8M861.4 1428.5h-8M108.0 1340.6h8M861.4 1340.6h-8M108.0 1252.8h8M861.4 1252.8h-8M108.0 1164.9h8M861.4 1164.9h-8M108.0 1077.1h8M861.4 1077.1h-8M108.0 989.2h8M861.4 989.2h-8M108.0 901.4h8M861.4 901.4h-8" stroke="#686868" stroke-width="1.1" fill="none"/>
<path d="M108.0 812.3V1516.2H861.4V812.3" stroke="#686868" stroke-width="1.25" fill="none"/>
<g fill="#0a0a0a"><circle cx="701.6" cy="857.4" r="2.75"/><circle cx="840.2" cy="956.7" r="2.75"/><circle cx="655.6" cy="1293.2" r="2.75"/><circle cx="647.6" cy="1207.1" r="2.75"/><circle cx="706.1" cy="1217.6" r="2.75"/><circle cx="707.8" cy="1045.4" r="2.75"/><circle cx="768.1" cy="1164.9" r="2.75"/><circle cx="697.6" cy="1306.3" r="2.75"/><circle cx="754.8" cy="1208.8" r="2.75"/><circle cx="679.9" cy="1341.5" r="2.75"/><circle cx="734.0" cy="1132.4" r="2.75"/><circle cx="710.5" cy="1015.6" r="2.75"/><circle cx="762.7" cy="1084.1" r="2.75"/><circle cx="823.0" cy="957.6" r="2.75"/><circle cx="717.6" cy="1170.2" r="2.75"/><circle cx="798.2" cy="1154.4" r="2.75"/><circle cx="692.8" cy="1331.8" r="2.75"/><circle cx="706.1" cy="1287.9" r="2.75"/><circle cx="639.6" cy="1226.4" r="2.75"/><circle cx="751.2" cy="1131.5" r="2.75"/><circle cx="631.6" cy="1210.6" r="2.75"/><circle cx="728.2" cy="1191.3" r="2.75"/><circle cx="651.1" cy="1284.4" r="2.75"/><circle cx="612.2" cy="1242.2" r="2.75"/><circle cx="828.3" cy="1038.4" r="2.75"/><circle cx="753.9" cy="1136.8" r="2.75"/><circle cx="713.1" cy="845.1" r="2.75"/><circle cx="835.4" cy="947.0" r="2.75"/><circle cx="772.5" cy="998.0" r="2.75"/><circle cx="759.2" cy="1006.8" r="2.75"/><circle cx="749.5" cy="1128.0" r="2.75"/><circle cx="706.9" cy="1184.2" r="2.75"/><circle cx="786.7" cy="1061.2" r="2.75"/><circle cx="809.7" cy="1036.6" r="2.75"/><circle cx="748.6" cy="1056.0" r="2.75"/><circle cx="633.4" cy="1038.4" r="2.75"/><circle cx="754.8" cy="1033.1" r="2.75"/><circle cx="737.1" cy="1103.4" r="2.75"/><circle cx="835.4" cy="876.8" r="2.75"/><circle cx="654.7" cy="1221.1" r="2.75"/><circle cx="635.2" cy="1358.2" r="2.75"/><circle cx="747.7" cy="1405.6" r="2.75"/><circle cx="629.9" cy="1312.5" r="2.75"/><circle cx="670.6" cy="1252.8" r="2.75"/><circle cx="611.3" cy="1240.5" r="2.75"/><circle cx="687.5" cy="1180.7" r="2.75"/><circle cx="672.4" cy="1256.3" r="2.75"/><circle cx="671.5" cy="1219.4" r="2.75"/><circle cx="741.5" cy="1077.1" r="2.75"/><circle cx="633.4" cy="1249.2" r="2.75"/><circle cx="746.8" cy="1017.3" r="2.75"/><circle cx="675.9" cy="1298.4" r="2.75"/><circle cx="826.5" cy="999.7" r="2.75"/><circle cx="619.2" cy="1361.7" r="2.75"/><circle cx="689.2" cy="1184.2" r="2.75"/><circle cx="655.6" cy="1433.7" r="2.75"/><circle cx="806.1" cy="959.3" r="2.75"/><circle cx="645.8" cy="1273.8" r="2.75"/><circle cx="647.6" cy="1277.3" r="2.75"/><circle cx="675.1" cy="1191.3" r="2.75"/><circle cx="750.3" cy="1164.9" r="2.75"/><circle cx="784.4" cy="1092.0" r="2.75"/><circle cx="763.6" cy="1121.0" r="2.75"/><circle cx="611.3" cy="1240.5" r="2.75"/><circle cx="803.5" cy="989.2" r="2.75"/><circle cx="712.3" cy="1229.9" r="2.75"/><circle cx="554.6" cy="1233.4" r="2.75"/><circle cx="670.6" cy="1287.9" r="2.75"/><circle cx="694.5" cy="1194.8" r="2.75"/><circle cx="839.8" cy="955.8" r="2.75"/><circle cx="762.7" cy="943.5" r="2.75"/><circle cx="781.3" cy="980.4" r="2.75"/><circle cx="728.2" cy="1121.0" r="2.75"/><circle cx="653.8" cy="1289.6" r="2.75"/><circle cx="686.6" cy="1073.5" r="2.75"/><circle cx="784.9" cy="917.2" r="2.75"/><circle cx="753.9" cy="996.2" r="2.75"/><circle cx="660.4" cy="1092.0" r="2.75"/><circle cx="682.1" cy="1064.8" r="2.75"/><circle cx="628.1" cy="1238.7" r="2.75"/><circle cx="707.8" cy="1045.4" r="2.75"/><circle cx="751.2" cy="1096.4" r="2.75"/><circle cx="644.9" cy="1131.5" r="2.75"/><circle cx="697.6" cy="954.9" r="2.75"/><circle cx="661.8" cy="1235.2" r="2.75"/><circle cx="722.9" cy="1145.6" r="2.75"/><circle cx="649.4" cy="1175.4" r="2.75"/><circle cx="586.5" cy="1296.7" r="2.75"/><circle cx="684.8" cy="999.7" r="2.75"/><circle cx="598.0" cy="1179.0" r="2.75"/><circle cx="644.1" cy="1164.9" r="2.75"/><circle cx="683.0" cy="996.2" r="2.75"/><circle cx="693.7" cy="1087.6" r="2.75"/><circle cx="627.2" cy="1131.5" r="2.75"/><circle cx="618.4" cy="1219.4" r="2.75"/><circle cx="644.9" cy="1096.4" r="2.75"/><circle cx="608.6" cy="1200.0" r="2.75"/><circle cx="606.8" cy="1266.8" r="2.75"/><circle cx="600.6" cy="1254.5" r="2.75"/><circle cx="608.6" cy="1200.0" r="2.75"/><circle cx="602.9" cy="1188.6" r="2.75"/><circle cx="586.5" cy="1156.1" r="2.75"/><circle cx="611.7" cy="1065.6" r="2.75"/><circle cx="642.3" cy="1091.1" r="2.75"/><circle cx="585.6" cy="1224.6" r="2.75"/><circle cx="606.8" cy="1231.7" r="2.75"/><circle cx="627.2" cy="1131.5" r="2.75"/><circle cx="598.0" cy="1179.0" r="2.75"/><circle cx="585.6" cy="1154.4" r="2.75"/><circle cx="553.7" cy="1231.7" r="2.75"/><circle cx="586.5" cy="1156.1" r="2.75"/><circle cx="603.3" cy="1189.5" r="2.75"/><circle cx="590.9" cy="1164.9" r="2.75"/><circle cx="603.3" cy="1189.5" r="2.75"/><circle cx="568.8" cy="1121.0" r="2.75"/><circle cx="589.1" cy="1196.5" r="2.75"/><circle cx="573.2" cy="1059.5" r="2.75"/><circle cx="625.4" cy="1057.7" r="2.75"/><circle cx="582.0" cy="1147.3" r="2.75"/><circle cx="600.6" cy="1184.2" r="2.75"/><circle cx="583.8" cy="1150.8" r="2.75"/><circle cx="587.4" cy="1157.9" r="2.75"/><circle cx="587.4" cy="1157.9" r="2.75"/><circle cx="629.0" cy="1064.8" r="2.75"/><circle cx="575.8" cy="1205.3" r="2.75"/><circle cx="590.9" cy="1164.9" r="2.75"/><circle cx="601.1" cy="1150.0" r="2.75"/><circle cx="573.6" cy="1130.6" r="2.75"/><circle cx="613.0" cy="1103.4" r="2.75"/><circle cx="513.0" cy="1186.0" r="2.75"/><circle cx="449.6" cy="1095.5" r="2.75"/><circle cx="485.1" cy="1306.3" r="2.75"/><circle cx="482.8" cy="1301.9" r="2.75"/><circle cx="490.8" cy="1247.5" r="2.75"/><circle cx="447.0" cy="1230.8" r="2.75"/><circle cx="497.9" cy="1156.1" r="2.75"/><circle cx="488.2" cy="1207.1" r="2.75"/><circle cx="497.9" cy="1156.1" r="2.75"/><circle cx="423.5" cy="1184.2" r="2.75"/><circle cx="485.9" cy="1202.7" r="2.75"/><circle cx="484.6" cy="1164.9" r="2.75"/><circle cx="458.5" cy="1253.6" r="2.75"/><circle cx="453.6" cy="1244.0" r="2.75"/><circle cx="490.8" cy="1177.2" r="2.75"/><circle cx="504.5" cy="1169.3" r="2.75"/><circle cx="494.4" cy="1149.1" r="2.75"/><circle cx="477.5" cy="1115.7" r="2.75"/><circle cx="514.7" cy="1189.5" r="2.75"/><circle cx="488.2" cy="1136.8" r="2.75"/><circle cx="449.2" cy="1164.9" r="2.75"/><circle cx="507.6" cy="1210.6" r="2.75"/><circle cx="452.7" cy="1242.2" r="2.75"/><circle cx="474.9" cy="1110.4" r="2.75"/><circle cx="444.8" cy="1085.8" r="2.75"/><circle cx="446.5" cy="1194.8" r="2.75"/><circle cx="467.3" cy="1130.6" r="2.75"/><circle cx="435.0" cy="1171.9" r="2.75"/><circle cx="412.0" cy="1126.2" r="2.75"/><circle cx="478.0" cy="1151.7" r="2.75"/><circle cx="424.4" cy="1186.0" r="2.75"/><circle cx="469.1" cy="1099.0" r="2.75"/><circle cx="510.7" cy="1181.6" r="2.75"/><circle cx="474.9" cy="1110.4" r="2.75"/><circle cx="451.0" cy="1098.1" r="2.75"/><circle cx="435.0" cy="1207.1" r="2.75"/><circle cx="460.3" cy="1116.6" r="2.75"/><circle cx="485.5" cy="1131.5" r="2.75"/><circle cx="488.2" cy="1136.8" r="2.75"/><circle cx="465.6" cy="1092.0" r="2.75"/><circle cx="478.4" cy="1117.5" r="2.75"/><circle cx="460.7" cy="1082.3" r="2.75"/><circle cx="416.4" cy="1170.2" r="2.75"/><circle cx="360.2" cy="882.9" r="2.75"/><circle cx="479.3" cy="1119.2" r="2.75"/><circle cx="462.5" cy="1085.8" r="2.75"/><circle cx="476.2" cy="1113.1" r="2.75"/><circle cx="443.9" cy="1224.6" r="2.75"/><circle cx="490.8" cy="1142.1" r="2.75"/><circle cx="445.6" cy="1228.2" r="2.75"/><circle cx="436.8" cy="1210.6" r="2.75"/><circle cx="477.1" cy="1114.8" r="2.75"/><circle cx="426.2" cy="1189.5" r="2.75"/><circle cx="457.2" cy="1251.0" r="2.75"/><circle cx="443.9" cy="1224.6" r="2.75"/><circle cx="429.7" cy="1196.5" r="2.75"/><circle cx="449.2" cy="1235.2" r="2.75"/><circle cx="483.7" cy="1128.0" r="2.75"/><circle cx="435.0" cy="1207.1" r="2.75"/><circle cx="424.8" cy="1186.9" r="2.75"/><circle cx="454.5" cy="1140.3" r="2.75"/><circle cx="477.1" cy="1114.8" r="2.75"/><circle cx="438.6" cy="1214.1" r="2.75"/><circle cx="423.5" cy="1184.2" r="2.75"/><circle cx="407.6" cy="1152.6" r="2.75"/><circle cx="466.0" cy="1092.9" r="2.75"/><circle cx="412.0" cy="1161.4" r="2.75"/><circle cx="446.5" cy="1089.3" r="2.75"/><circle cx="411.1" cy="1159.6" r="2.75"/><circle cx="410.2" cy="1157.9" r="2.75"/><circle cx="443.0" cy="1117.5" r="2.75"/><circle cx="415.5" cy="1168.4" r="2.75"/><circle cx="473.1" cy="1106.9" r="2.75"/><circle cx="469.6" cy="1099.9" r="2.75"/><circle cx="423.5" cy="1008.5" r="2.75"/><circle cx="404.0" cy="1145.6" r="2.75"/><circle cx="411.1" cy="1159.6" r="2.75"/><circle cx="412.0" cy="1161.4" r="2.75"/><circle cx="407.6" cy="1152.6" r="2.75"/><circle cx="451.8" cy="1064.8" r="2.75"/><circle cx="409.3" cy="1121.0" r="2.75"/><circle cx="398.7" cy="1135.0" r="2.75"/><circle cx="444.3" cy="1049.8" r="2.75"/><circle cx="396.5" cy="1130.6" r="2.75"/><circle cx="402.7" cy="1142.9" r="2.75"/><circle cx="406.7" cy="1150.8" r="2.75"/><circle cx="397.8" cy="1133.3" r="2.75"/><circle cx="404.9" cy="1147.3" r="2.75"/><circle cx="412.0" cy="1161.4" r="2.75"/><circle cx="445.6" cy="1052.5" r="2.75"/><circle cx="412.0" cy="1161.4" r="2.75"/><circle cx="397.8" cy="1133.3" r="2.75"/><circle cx="226.9" cy="1356.4" r="2.75"/><circle cx="221.5" cy="1275.6" r="2.75"/><circle cx="292.4" cy="1064.8" r="2.75"/><circle cx="358.0" cy="1089.3" r="2.75"/><circle cx="340.7" cy="1230.8" r="2.75"/><circle cx="347.3" cy="1173.7" r="2.75"/><circle cx="305.7" cy="1056.0" r="2.75"/><circle cx="299.5" cy="1149.1" r="2.75"/><circle cx="294.2" cy="1103.4" r="2.75"/><circle cx="219.8" cy="1307.2" r="2.75"/><circle cx="123.2" cy="1467.1" r="2.75"/><circle cx="226.0" cy="1284.4" r="2.75"/><circle cx="275.6" cy="1207.1" r="2.75"/><circle cx="333.6" cy="1041.0" r="2.75"/><circle cx="326.1" cy="1166.7" r="2.75"/><circle cx="241.0" cy="1349.4" r="2.75"/><circle cx="327.8" cy="1064.8" r="2.75"/><circle cx="324.3" cy="1163.1" r="2.75"/><circle cx="295.1" cy="1105.2" r="2.75"/><circle cx="351.8" cy="1182.5" r="2.75"/><circle cx="303.0" cy="1015.6" r="2.75"/><circle cx="280.0" cy="1251.0" r="2.75"/><circle cx="307.5" cy="1164.9" r="2.75"/><circle cx="303.0" cy="1226.4" r="2.75"/><circle cx="203.8" cy="1275.6" r="2.75"/><circle cx="340.2" cy="1054.2" r="2.75"/><circle cx="297.7" cy="1075.3" r="2.75"/><circle cx="280.0" cy="1040.2" r="2.75"/><circle cx="315.0" cy="1144.7" r="2.75"/><circle cx="231.3" cy="1189.5" r="2.75"/><circle cx="193.2" cy="1289.6" r="2.75"/><circle cx="307.5" cy="1024.3" r="2.75"/><circle cx="321.6" cy="1052.5" r="2.75"/><circle cx="316.8" cy="1148.2" r="2.75"/><circle cx="324.3" cy="1163.1" r="2.75"/><circle cx="291.1" cy="1097.3" r="2.75"/><circle cx="294.6" cy="1280.0" r="2.75"/><circle cx="289.3" cy="1269.4" r="2.75"/><circle cx="315.9" cy="1146.5" r="2.75"/><circle cx="230.4" cy="1328.3" r="2.75"/><circle cx="203.8" cy="1275.6" r="2.75"/><circle cx="255.2" cy="1166.7" r="2.75"/><circle cx="240.1" cy="1277.3" r="2.75"/><circle cx="219.3" cy="1200.9" r="2.75"/><circle cx="351.3" cy="1076.2" r="2.75"/><circle cx="306.6" cy="1128.0" r="2.75"/><circle cx="272.5" cy="1236.1" r="2.75"/><circle cx="290.2" cy="1271.2" r="2.75"/><circle cx="312.8" cy="1140.3" r="2.75"/><circle cx="321.6" cy="1157.9" r="2.75"/><circle cx="267.6" cy="1226.4" r="2.75"/><circle cx="327.8" cy="1170.2" r="2.75"/><circle cx="293.3" cy="1171.9" r="2.75"/><circle cx="319.0" cy="1152.6" r="2.75"/><circle cx="326.1" cy="1166.7" r="2.75"/><circle cx="305.7" cy="1126.2" r="2.75"/><circle cx="343.8" cy="1201.8" r="2.75"/><circle cx="291.5" cy="1203.6" r="2.75"/><circle cx="310.1" cy="1135.0" r="2.75"/><circle cx="256.1" cy="1203.6" r="2.75"/><circle cx="324.3" cy="1163.1" r="2.75"/><circle cx="303.0" cy="1050.7" r="2.75"/><circle cx="317.7" cy="1150.0" r="2.75"/><circle cx="319.4" cy="1153.5" r="2.75"/><circle cx="309.2" cy="1133.3" r="2.75"/><circle cx="275.6" cy="1171.9" r="2.75"/><circle cx="325.2" cy="1164.9" r="2.75"/><circle cx="291.5" cy="1063.0" r="2.75"/><circle cx="281.3" cy="1077.9" r="2.75"/><circle cx="272.0" cy="1235.2" r="2.75"/><circle cx="311.0" cy="1136.8" r="2.75"/><circle cx="306.1" cy="1197.4" r="2.75"/><circle cx="362.4" cy="1168.4" r="2.75"/><circle cx="310.1" cy="1170.2" r="2.75"/><circle cx="306.6" cy="1128.0" r="2.75"/><circle cx="296.4" cy="1107.8" r="2.75"/><circle cx="319.0" cy="1152.6" r="2.75"/><circle cx="259.6" cy="1140.3" r="2.75"/><circle cx="271.1" cy="1233.4" r="2.75"/><circle cx="270.7" cy="1232.5" r="2.75"/></g>
<line x1="122.7" x2="841" y1="959.8" y2="959.8" stroke="#0a0a0a" stroke-width="2.8"/>
<line x1="122.7" x2="841" y1="1157.9" y2="1157.9" stroke="#0a0a0a" stroke-width="2.8"/>
<line x1="122.7" x2="841" y1="1355.0" y2="1355.0" stroke="#0a0a0a" stroke-width="2.8"/>
<g font-size="24" font-weight="bold" fill="#111">
<text x="128" y="948">Mean+2Std</text><text x="128" y="1114.5">Mean= 0.39</text>
<text x="128" y="1145">2Std= <tspan x="222.5" y="1145">11.61</tspan></text>
<text transform="translate(201 1146) scale(1.22 1)" font-weight="normal" font-size="29">±</text>
<text x="128" y="1394">Mean+2Std</text></g>
<g font-size="24" fill="#262626" text-anchor="middle">
<text x="112.6" y="1548">33</text>
<text x="148.0" y="1548">35</text>
<text x="183.5" y="1548">37</text>
<text x="218.9" y="1548">39</text>
<text x="254.3" y="1548">41</text>
<text x="289.8" y="1548">43</text>
<text x="325.2" y="1548">45</text>
<text x="360.6" y="1548">47</text>
<text x="396.0" y="1548">49</text>
<text x="431.5" y="1548">51</text>
<text x="466.9" y="1548">53</text>
<text x="502.3" y="1548">55</text>
<text x="537.8" y="1548">57</text>
<text x="573.2" y="1548">59</text>
<text x="608.6" y="1548">61</text>
<text x="644.1" y="1548">63</text>
<text x="679.5" y="1548">65</text>
<text x="714.9" y="1548">67</text>
<text x="750.3" y="1548">69</text>
<text x="785.8" y="1548">71</text>
<text x="821.2" y="1548">73</text>
<text x="856.6" y="1548">75</text>
</g>
<g font-size="24" fill="#262626" text-anchor="end">
<text x="100" y="1525.3">-20</text>
<text x="100" y="1437.5">-15</text>
<text x="100" y="1349.6">-10</text>
<text x="100" y="1261.8">-5</text>
<text x="100" y="1173.9">0</text>
<text x="100" y="1086.1">5</text>
<text x="100" y="998.2">10</text>
<text x="100" y="910.4">15</text>
<text x="100" y="822.5">20</text>
</g>
<text x="484.5" y="1582.5" font-size="26.65" font-weight="bold" fill="#262626" text-anchor="middle">Average (original and estimated LVEF)</text>
<text transform="translate(54.5 1165.5) rotate(-90)" font-size="26.65" font-weight="bold" fill="#262626" text-anchor="middle">Difference (original minus estimated LVEF)</text>
<path d="M1025.4 812.5V1515.9M1079.3 812.5V1515.9M1133.1 812.5V1515.9M1187.0 812.5V1515.9M1240.8 812.5V1515.9M1294.7 812.5V1515.9M1348.5 812.5V1515.9M1402.4 812.5V1515.9M1456.2 812.5V1515.9M1510.1 812.5V1515.9M1563.9 812.5V1515.9M1617.7 812.5V1515.9M1671.6 812.5V1515.9M1725.4 812.5V1515.9M971.6 1457.3H1725.4M971.6 1398.8H1725.4M971.6 1340.2H1725.4M971.6 1281.6H1725.4M971.6 1223.1H1725.4M971.6 1164.5H1725.4M971.6 1105.9H1725.4M971.6 1047.4H1725.4M971.6 988.8H1725.4M971.6 930.2H1725.4M971.6 871.7H1725.4M971.6 813.1H1725.4" stroke="#262626" stroke-opacity="0.10" stroke-width="1.1" fill="none"/>
<path d="M1025.4 812.5v8M1025.4 1515.9v-8M1079.3 812.5v8M1079.3 1515.9v-8M1133.1 812.5v8M1133.1 1515.9v-8M1187.0 812.5v8M1187.0 1515.9v-8M1240.8 812.5v8M1240.8 1515.9v-8M1294.7 812.5v8M1294.7 1515.9v-8M1348.5 812.5v8M1348.5 1515.9v-8M1402.4 812.5v8M1402.4 1515.9v-8M1456.2 812.5v8M1456.2 1515.9v-8M1510.1 812.5v8M1510.1 1515.9v-8M1563.9 812.5v8M1563.9 1515.9v-8M1617.7 812.5v8M1617.7 1515.9v-8M1671.6 812.5v8M1671.6 1515.9v-8M971.6 1457.3h8M1725.4 1457.3h-8M971.6 1398.8h8M1725.4 1398.8h-8M971.6 1340.2h8M1725.4 1340.2h-8M971.6 1281.6h8M1725.4 1281.6h-8M971.6 1223.1h8M1725.4 1223.1h-8M971.6 1164.5h8M1725.4 1164.5h-8M971.6 1105.9h8M1725.4 1105.9h-8M971.6 1047.4h8M1725.4 1047.4h-8M971.6 988.8h8M1725.4 988.8h-8M971.6 930.2h8M1725.4 930.2h-8M971.6 871.7h8M1725.4 871.7h-8" stroke="#686868" stroke-width="1.1" fill="none"/>
<path d="M971.6 812.5V1515.9H1725.4" stroke="#686868" stroke-width="1.25" fill="none"/>
<g fill="#0a0a0a"><circle cx="1563.9" cy="1135.2" r="2.5"/><circle cx="1617.7" cy="1010.5" r="2.5"/><circle cx="1402.4" cy="1020.4" r="2.5"/><circle cx="1423.9" cy="1054.4" r="2.5"/><circle cx="1456.2" cy="1012.2" r="2.5"/><circle cx="1510.1" cy="1068.5" r="2.5"/><circle cx="1510.1" cy="988.8" r="2.5"/><circle cx="1423.9" cy="988.2" r="2.5"/><circle cx="1488.5" cy="982.9" r="2.5"/><circle cx="1402.4" cy="988.2" r="2.5"/><circle cx="1499.3" cy="1022.2" r="2.5"/><circle cx="1520.8" cy="1076.7" r="2.5"/><circle cx="1531.6" cy="1019.3" r="2.5"/><circle cx="1607.0" cy="1021.6" r="2.5"/><circle cx="1477.7" cy="1020.4" r="2.5"/><circle cx="1531.6" cy="972.4" r="2.5"/><circle cx="1413.1" cy="982.9" r="2.5"/><circle cx="1434.7" cy="988.8" r="2.5"/><circle cx="1413.1" cy="1053.2" r="2.5"/><circle cx="1510.1" cy="1011.1" r="2.5"/><circle cx="1413.1" cy="1063.8" r="2.5"/><circle cx="1477.7" cy="1006.4" r="2.5"/><circle cx="1402.4" cy="1026.3" r="2.5"/><circle cx="1391.6" cy="1066.1" r="2.5"/><circle cx="1585.4" cy="991.1" r="2.5"/><circle cx="1510.1" cy="1007.5" r="2.5"/><circle cx="1574.7" cy="1131.7" r="2.5"/><circle cx="1617.7" cy="1016.9" r="2.5"/><circle cx="1563.9" cy="1041.5" r="2.5"/><circle cx="1553.1" cy="1047.4" r="2.5"/><circle cx="1510.1" cy="1013.4" r="2.5"/><circle cx="1467.0" cy="1022.8" r="2.5"/><circle cx="1553.1" cy="1011.1" r="2.5"/><circle cx="1574.7" cy="1004.0" r="2.5"/><circle cx="1531.6" cy="1038.0" r="2.5"/><circle cx="1467.0" cy="1120.0" r="2.5"/><circle cx="1542.4" cy="1041.5" r="2.5"/><circle cx="1510.1" cy="1029.8" r="2.5"/><circle cx="1639.3" cy="1040.3" r="2.5"/><circle cx="1423.9" cy="1045.0" r="2.5"/><circle cx="1370.1" cy="1012.2" r="2.5"/><circle cx="1423.9" cy="922.0" r="2.5"/><circle cx="1380.8" cy="1031.0" r="2.5"/><circle cx="1423.9" cy="1023.9" r="2.5"/><circle cx="1391.6" cy="1067.3" r="2.5"/><circle cx="1456.2" cy="1036.8" r="2.5"/><circle cx="1423.9" cy="1021.6" r="2.5"/><circle cx="1434.7" cy="1034.5" r="2.5"/><circle cx="1520.8" cy="1035.7" r="2.5"/><circle cx="1402.4" cy="1049.7" r="2.5"/><circle cx="1542.4" cy="1052.1" r="2.5"/><circle cx="1413.1" cy="1005.2" r="2.5"/><circle cx="1596.2" cy="1005.2" r="2.5"/><circle cx="1359.3" cy="1021.6" r="2.5"/><circle cx="1456.2" cy="1034.5" r="2.5"/><circle cx="1359.3" cy="973.6" r="2.5"/><circle cx="1596.2" cy="1032.1" r="2.5"/><circle cx="1402.4" cy="1033.3" r="2.5"/><circle cx="1402.4" cy="1031.0" r="2.5"/><circle cx="1445.4" cy="1041.5" r="2.5"/><circle cx="1499.3" cy="1000.5" r="2.5"/><circle cx="1542.4" cy="1002.3" r="2.5"/><circle cx="1520.8" cy="1006.4" r="2.5"/><circle cx="1391.6" cy="1067.3" r="2.5"/><circle cx="1585.4" cy="1023.9" r="2.5"/><circle cx="1456.2" cy="1004.0" r="2.5"/><circle cx="1359.3" cy="1107.1" r="2.5"/><circle cx="1413.1" cy="1012.2" r="2.5"/><circle cx="1456.2" cy="1027.5" r="2.5"/><circle cx="1617.7" cy="1011.1" r="2.5"/><circle cx="1574.7" cy="1066.1" r="2.5"/><circle cx="1574.7" cy="1041.5" r="2.5"/><circle cx="1499.3" cy="1029.8" r="2.5"/><circle cx="1402.4" cy="1022.8" r="2.5"/><circle cx="1488.5" cy="1073.1" r="2.5"/><circle cx="1596.2" cy="1060.3" r="2.5"/><circle cx="1553.1" cy="1054.4" r="2.5"/><circle cx="1467.0" cy="1084.3" r="2.5"/><circle cx="1488.5" cy="1079.0" r="2.5"/><circle cx="1402.4" cy="1056.7" r="2.5"/><circle cx="1510.1" cy="1068.5" r="2.5"/><circle cx="1520.8" cy="1022.8" r="2.5"/><circle cx="1445.4" cy="1081.3" r="2.5"/><circle cx="1531.6" cy="1105.3" r="2.5"/><circle cx="1423.9" cy="1035.7" r="2.5"/><circle cx="1488.5" cy="1025.1" r="2.5"/><circle cx="1434.7" cy="1063.8" r="2.5"/><circle cx="1359.3" cy="1064.9" r="2.5"/><circle cx="1510.1" cy="1098.9" r="2.5"/><circle cx="1402.4" cy="1096.6" r="2.5"/><circle cx="1434.7" cy="1070.8" r="2.5"/><circle cx="1510.1" cy="1101.2" r="2.5"/><circle cx="1488.5" cy="1063.8" r="2.5"/><circle cx="1434.7" cy="1093.1" r="2.5"/><circle cx="1402.4" cy="1069.6" r="2.5"/><circle cx="1456.2" cy="1093.1" r="2.5"/><circle cx="1402.4" cy="1082.5" r="2.5"/><circle cx="1380.8" cy="1061.4" r="2.5"/><circle cx="1380.8" cy="1069.6" r="2.5"/><circle cx="1402.4" cy="1082.5" r="2.5"/><circle cx="1402.4" cy="1090.1" r="2.5"/><circle cx="1402.4" cy="1111.8" r="2.5"/><circle cx="1445.4" cy="1125.3" r="2.5"/><circle cx="1456.2" cy="1096.6" r="2.5"/><circle cx="1380.8" cy="1089.5" r="2.5"/><circle cx="1391.6" cy="1073.1" r="2.5"/><circle cx="1434.7" cy="1093.1" r="2.5"/><circle cx="1402.4" cy="1096.6" r="2.5"/><circle cx="1402.4" cy="1113.0" r="2.5"/><circle cx="1359.3" cy="1108.3" r="2.5"/><circle cx="1402.4" cy="1111.8" r="2.5"/><circle cx="1402.4" cy="1089.5" r="2.5"/><circle cx="1402.4" cy="1105.9" r="2.5"/><circle cx="1402.4" cy="1089.5" r="2.5"/><circle cx="1402.4" cy="1135.2" r="2.5"/><circle cx="1391.6" cy="1096.6" r="2.5"/><circle cx="1423.9" cy="1152.8" r="2.5"/><circle cx="1456.2" cy="1118.8" r="2.5"/><circle cx="1402.4" cy="1117.6" r="2.5"/><circle cx="1402.4" cy="1093.1" r="2.5"/><circle cx="1402.4" cy="1115.3" r="2.5"/><circle cx="1402.4" cy="1110.6" r="2.5"/><circle cx="1402.4" cy="1110.6" r="2.5"/><circle cx="1456.2" cy="1114.1" r="2.5"/><circle cx="1380.8" cy="1102.4" r="2.5"/><circle cx="1402.4" cy="1105.9" r="2.5"/><circle cx="1413.1" cy="1104.2" r="2.5"/><circle cx="1402.4" cy="1128.8" r="2.5"/><circle cx="1434.7" cy="1111.8" r="2.5"/><circle cx="1348.5" cy="1150.4" r="2.5"/><circle cx="1337.7" cy="1222.5" r="2.5"/><circle cx="1294.7" cy="1128.8" r="2.5"/><circle cx="1294.7" cy="1131.7" r="2.5"/><circle cx="1316.2" cy="1144.6" r="2.5"/><circle cx="1294.7" cy="1179.1" r="2.5"/><circle cx="1348.5" cy="1170.4" r="2.5"/><circle cx="1327.0" cy="1159.8" r="2.5"/><circle cx="1348.5" cy="1170.4" r="2.5"/><circle cx="1294.7" cy="1210.2" r="2.5"/><circle cx="1327.0" cy="1162.7" r="2.5"/><circle cx="1337.7" cy="1176.2" r="2.5"/><circle cx="1294.7" cy="1163.9" r="2.5"/><circle cx="1294.7" cy="1170.4" r="2.5"/><circle cx="1337.7" cy="1168.0" r="2.5"/><circle cx="1348.5" cy="1161.6" r="2.5"/><circle cx="1348.5" cy="1175.0" r="2.5"/><circle cx="1348.5" cy="1197.3" r="2.5"/><circle cx="1348.5" cy="1148.1" r="2.5"/><circle cx="1348.5" cy="1183.2" r="2.5"/><circle cx="1316.2" cy="1199.6" r="2.5"/><circle cx="1337.7" cy="1145.8" r="2.5"/><circle cx="1294.7" cy="1171.5" r="2.5"/><circle cx="1348.5" cy="1200.8" r="2.5"/><circle cx="1337.7" cy="1228.9" r="2.5"/><circle cx="1305.4" cy="1191.4" r="2.5"/><circle cx="1337.7" cy="1199.1" r="2.5"/><circle cx="1305.4" cy="1206.7" r="2.5"/><circle cx="1305.4" cy="1237.1" r="2.5"/><circle cx="1337.7" cy="1185.0" r="2.5"/><circle cx="1294.7" cy="1209.0" r="2.5"/><circle cx="1348.5" cy="1208.4" r="2.5"/><circle cx="1348.5" cy="1153.4" r="2.5"/><circle cx="1348.5" cy="1200.8" r="2.5"/><circle cx="1337.7" cy="1220.7" r="2.5"/><circle cx="1294.7" cy="1195.0" r="2.5"/><circle cx="1337.7" cy="1208.4" r="2.5"/><circle cx="1348.5" cy="1186.8" r="2.5"/><circle cx="1348.5" cy="1183.2" r="2.5"/><circle cx="1348.5" cy="1213.1" r="2.5"/><circle cx="1348.5" cy="1196.1" r="2.5"/><circle cx="1348.5" cy="1219.6" r="2.5"/><circle cx="1294.7" cy="1219.6" r="2.5"/><circle cx="1348.5" cy="1352.5" r="2.5"/><circle cx="1348.5" cy="1195.0" r="2.5"/><circle cx="1348.5" cy="1217.2" r="2.5"/><circle cx="1348.5" cy="1199.1" r="2.5"/><circle cx="1294.7" cy="1183.2" r="2.5"/><circle cx="1348.5" cy="1179.7" r="2.5"/><circle cx="1294.7" cy="1180.9" r="2.5"/><circle cx="1294.7" cy="1192.6" r="2.5"/><circle cx="1348.5" cy="1197.9" r="2.5"/><circle cx="1294.7" cy="1206.7" r="2.5"/><circle cx="1294.7" cy="1165.7" r="2.5"/><circle cx="1294.7" cy="1183.2" r="2.5"/><circle cx="1294.7" cy="1202.0" r="2.5"/><circle cx="1294.7" cy="1176.2" r="2.5"/><circle cx="1348.5" cy="1189.1" r="2.5"/><circle cx="1294.7" cy="1195.0" r="2.5"/><circle cx="1294.7" cy="1208.4" r="2.5"/><circle cx="1327.0" cy="1204.3" r="2.5"/><circle cx="1348.5" cy="1197.9" r="2.5"/><circle cx="1294.7" cy="1190.3" r="2.5"/><circle cx="1294.7" cy="1210.2" r="2.5"/><circle cx="1294.7" cy="1231.3" r="2.5"/><circle cx="1348.5" cy="1212.5" r="2.5"/><circle cx="1294.7" cy="1225.4" r="2.5"/><circle cx="1337.7" cy="1226.6" r="2.5"/><circle cx="1294.7" cy="1226.6" r="2.5"/><circle cx="1294.7" cy="1227.8" r="2.5"/><circle cx="1327.0" cy="1219.6" r="2.5"/><circle cx="1294.7" cy="1220.7" r="2.5"/><circle cx="1348.5" cy="1203.2" r="2.5"/><circle cx="1348.5" cy="1207.8" r="2.5"/><circle cx="1348.5" cy="1268.7" r="2.5"/><circle cx="1294.7" cy="1235.9" r="2.5"/><circle cx="1294.7" cy="1226.6" r="2.5"/><circle cx="1294.7" cy="1225.4" r="2.5"/><circle cx="1294.7" cy="1231.3" r="2.5"/><circle cx="1348.5" cy="1231.3" r="2.5"/><circle cx="1305.4" cy="1240.6" r="2.5"/><circle cx="1294.7" cy="1243.0" r="2.5"/><circle cx="1348.5" cy="1241.2" r="2.5"/><circle cx="1294.7" cy="1245.9" r="2.5"/><circle cx="1294.7" cy="1237.7" r="2.5"/><circle cx="1294.7" cy="1232.4" r="2.5"/><circle cx="1294.7" cy="1244.1" r="2.5"/><circle cx="1294.7" cy="1234.8" r="2.5"/><circle cx="1294.7" cy="1225.4" r="2.5"/><circle cx="1348.5" cy="1239.5" r="2.5"/><circle cx="1294.7" cy="1225.4" r="2.5"/><circle cx="1294.7" cy="1244.1" r="2.5"/><circle cx="1122.4" cy="1282.8" r="2.5"/><circle cx="1143.9" cy="1313.3" r="2.5"/><circle cx="1251.6" cy="1336.7" r="2.5"/><circle cx="1047.0" cy="1243.0" r="2.5"/><circle cx="1283.9" cy="1285.1" r="2.5"/><circle cx="1230.1" cy="1249.4" r="2.5"/><circle cx="1251.6" cy="1264.1" r="2.5"/><circle cx="1262.4" cy="1330.8" r="2.5"/><circle cx="1230.1" cy="1303.9" r="2.5"/><circle cx="1240.8" cy="1322.6" r="2.5"/><circle cx="1133.1" cy="1303.9" r="2.5"/><circle cx="1025.4" cy="1314.4" r="2.5"/><circle cx="1143.9" cy="1307.4" r="2.5"/><circle cx="1047.0" cy="1153.1" r="2.5"/><circle cx="1197.7" cy="1300.4" r="2.5"/><circle cx="1283.9" cy="1317.4" r="2.5"/><circle cx="1240.8" cy="1280.5" r="2.5"/><circle cx="1133.1" cy="1275.8" r="2.5"/><circle cx="1273.1" cy="1313.3" r="2.5"/><circle cx="1240.8" cy="1282.8" r="2.5"/><circle cx="1240.8" cy="1321.5" r="2.5"/><circle cx="1251.6" cy="1258.2" r="2.5"/><circle cx="1273.1" cy="1346.1" r="2.5"/><circle cx="1187.0" cy="1282.8" r="2.5"/><circle cx="1230.1" cy="1293.3" r="2.5"/><circle cx="1208.5" cy="1275.8" r="2.5"/><circle cx="1133.1" cy="1325.0" r="2.5"/><circle cx="1283.9" cy="1308.6" r="2.5"/><circle cx="1251.6" cy="1329.7" r="2.5"/><circle cx="1251.6" cy="1353.1" r="2.5"/><circle cx="1240.8" cy="1295.1" r="2.5"/><circle cx="1176.2" cy="1335.5" r="2.5"/><circle cx="1122.4" cy="1327.3" r="2.5"/><circle cx="1273.1" cy="1340.2" r="2.5"/><circle cx="1273.1" cy="1321.5" r="2.5"/><circle cx="1240.8" cy="1292.8" r="2.5"/><circle cx="1240.8" cy="1282.8" r="2.5"/><circle cx="1240.8" cy="1326.7" r="2.5"/><circle cx="1187.0" cy="1263.5" r="2.5"/><circle cx="1187.0" cy="1270.5" r="2.5"/><circle cx="1240.8" cy="1293.9" r="2.5"/><circle cx="1133.1" cy="1289.8" r="2.5"/><circle cx="1133.1" cy="1325.0" r="2.5"/><circle cx="1197.7" cy="1327.3" r="2.5"/><circle cx="1154.7" cy="1300.4" r="2.5"/><circle cx="1165.4" cy="1339.6" r="2.5"/><circle cx="1283.9" cy="1293.9" r="2.5"/><circle cx="1240.8" cy="1306.2" r="2.5"/><circle cx="1187.0" cy="1292.8" r="2.5"/><circle cx="1187.0" cy="1269.3" r="2.5"/><circle cx="1240.8" cy="1298.0" r="2.5"/><circle cx="1240.8" cy="1286.3" r="2.5"/><circle cx="1187.0" cy="1299.2" r="2.5"/><circle cx="1240.8" cy="1278.1" r="2.5"/><circle cx="1219.3" cy="1300.4" r="2.5"/><circle cx="1240.8" cy="1289.8" r="2.5"/><circle cx="1240.8" cy="1280.5" r="2.5"/><circle cx="1240.8" cy="1307.4" r="2.5"/><circle cx="1240.8" cy="1257.0" r="2.5"/><circle cx="1208.5" cy="1291.0" r="2.5"/><circle cx="1240.8" cy="1301.5" r="2.5"/><circle cx="1187.0" cy="1314.4" r="2.5"/><circle cx="1240.8" cy="1282.8" r="2.5"/><circle cx="1262.4" cy="1334.3" r="2.5"/><circle cx="1240.8" cy="1291.6" r="2.5"/><circle cx="1240.8" cy="1289.2" r="2.5"/><circle cx="1240.8" cy="1302.7" r="2.5"/><circle cx="1208.5" cy="1312.1" r="2.5"/><circle cx="1240.8" cy="1281.6" r="2.5"/><circle cx="1251.6" cy="1337.9" r="2.5"/><circle cx="1240.8" cy="1339.6" r="2.5"/><circle cx="1187.0" cy="1293.3" r="2.5"/><circle cx="1240.8" cy="1300.4" r="2.5"/><circle cx="1219.3" cy="1283.4" r="2.5"/><circle cx="1262.4" cy="1255.9" r="2.5"/><circle cx="1230.1" cy="1289.8" r="2.5"/><circle cx="1240.8" cy="1306.2" r="2.5"/><circle cx="1240.8" cy="1319.7" r="2.5"/><circle cx="1240.8" cy="1289.8" r="2.5"/><circle cx="1208.5" cy="1333.2" r="2.5"/><circle cx="1187.0" cy="1294.5" r="2.5"/><circle cx="1187.0" cy="1295.1" r="2.5"/></g>
<line x1="1025.4" y1="1424.5" x2="1639.3" y2="937.3" stroke="#c8102e" stroke-width="2.2"/>
<rect x="1338.7" y="823.2" width="376.8" height="33.2" fill="#fff" stroke="#666" stroke-width="1.2"/>
<circle cx="1359.8" cy="840.7" r="2.5" fill="#0a0a0a"/>
<text x="1381" y="848.6" font-size="24.13" font-weight="bold" fill="#111">Correlation coefficient = 0.85</text>
<g font-size="24" fill="#262626" text-anchor="middle">
<text x="971.6" y="1548">20</text>
<text x="1025.4" y="1548">25</text>
<text x="1079.3" y="1548">30</text>
<text x="1133.1" y="1548">35</text>
<text x="1187.0" y="1548">40</text>
<text x="1240.8" y="1548">45</text>
<text x="1294.7" y="1548">50</text>
<text x="1348.5" y="1548">55</text>
<text x="1402.4" y="1548">60</text>
<text x="1456.2" y="1548">65</text>
<text x="1510.1" y="1548">70</text>
<text x="1563.9" y="1548">75</text>
<text x="1617.7" y="1548">80</text>
<text x="1671.6" y="1548">85</text>
<text x="1725.4" y="1548">90</text>
</g>
<g font-size="24" fill="#262626" text-anchor="end">
<text x="963" y="1524.4">25</text>
<text x="963" y="1465.8">30</text>
<text x="963" y="1407.3">35</text>
<text x="963" y="1348.7">40</text>
<text x="963" y="1290.1">45</text>
<text x="963" y="1231.6">50</text>
<text x="963" y="1173.0">55</text>
<text x="963" y="1114.4">60</text>
<text x="963" y="1055.9">65</text>
<text x="963" y="997.3">70</text>
<text x="963" y="938.7">75</text>
<text x="963" y="880.2">80</text>
<text x="963" y="821.6">85</text>
</g>
<text x="1348.2" y="1582.5" font-size="26.65" font-weight="bold" fill="#262626" text-anchor="middle">Original LVEF</text>
<text transform="translate(926 1165) rotate(-90)" font-size="26.65" font-weight="bold" fill="#262626" text-anchor="middle">Estimated LVEF</text>
</svg>
</body></html>
